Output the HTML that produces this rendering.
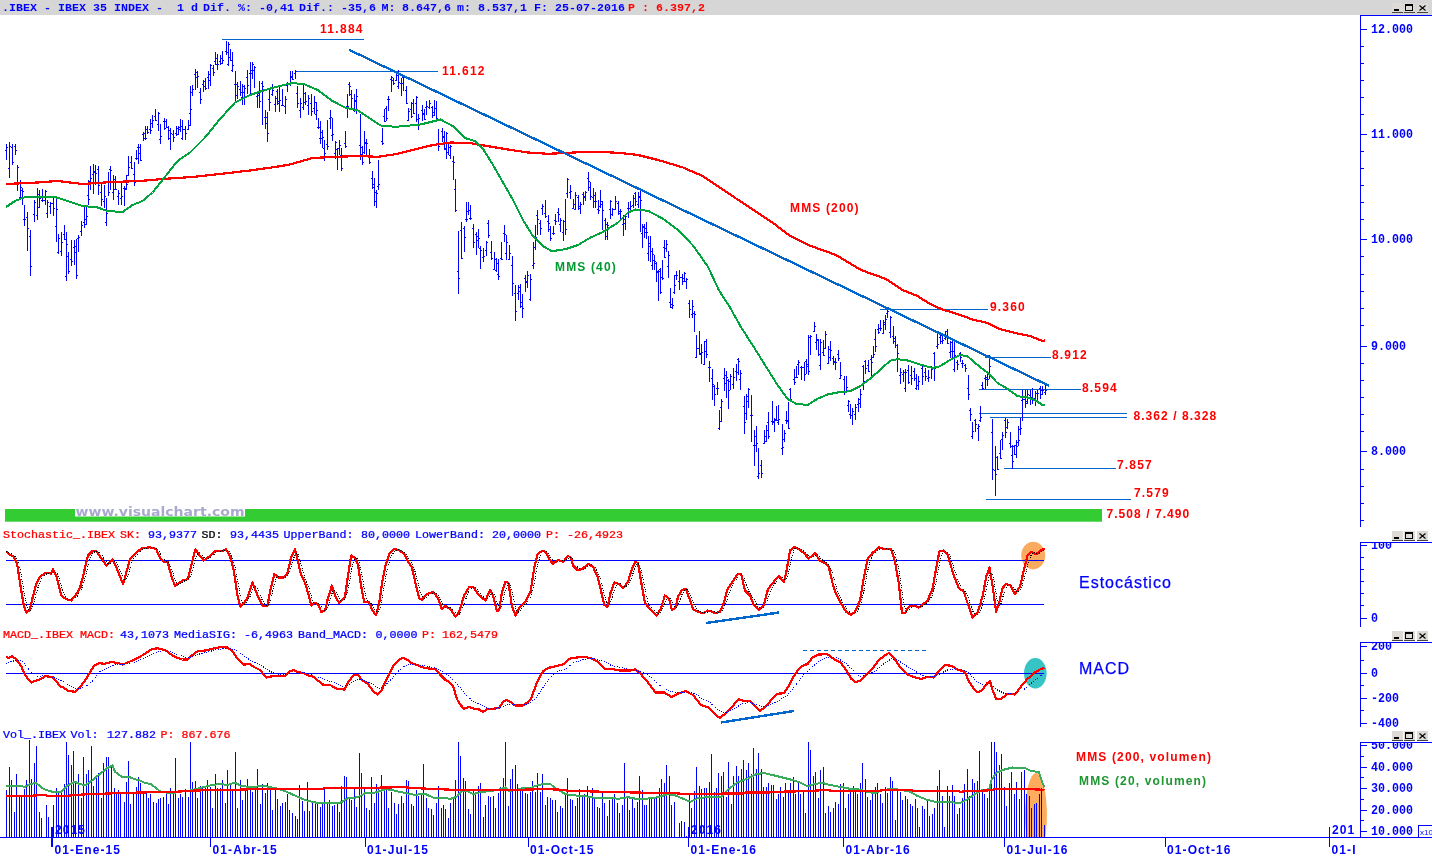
<!DOCTYPE html>
<html><head><meta charset="utf-8"><title>IBEX 35</title>
<style>html,body{margin:0;padding:0;background:#fff;}body{width:1432px;height:857px;overflow:hidden;position:relative;font-family:"Liberation Sans",sans-serif;}</style>
</head><body>
<svg width="1432" height="857" viewBox="0 0 1432 857" style="position:absolute;left:0;top:0">
<rect width="1432" height="857" fill="#fff"/>
<rect x="0" y="0" width="1432" height="15" fill="#d6d6d6"/>
<rect x="5" y="509" width="1097" height="12.7" fill="#33cc33"/>
<rect x="75" y="505" width="170" height="11.5" fill="#fff"/>
<rect x="222" y="39" width="142" height="1" fill="#0066cc"/>
<rect x="295" y="71" width="143" height="1" fill="#0066cc"/>
<rect x="880" y="309" width="108" height="1" fill="#0066cc"/>
<rect x="985" y="357" width="66" height="1" fill="#0066cc"/>
<rect x="979" y="389" width="102" height="1" fill="#0066cc"/>
<rect x="979" y="413" width="148" height="1" fill="#0066cc"/>
<rect x="990" y="417" width="137" height="1" fill="#0066cc"/>
<rect x="1004" y="468" width="112" height="1" fill="#0066cc"/>
<rect x="986" y="499" width="145" height="1" fill="#0066cc"/>
<path d="M6.5 144V160M5 150.5h1M7 147.5h1M9.5 142V178M8 168.5h1M10 146.5h1M12.5 144V165M11 147.5h1M13 162.5h1M15.5 144V155M14 146.5h1M16 150.5h1M17.5 165V191M16 184.5h1M18 167.5h1M20.5 180V200M19 197.5h1M21 187.5h1M22.5 188V205M21 190.5h1M23 191.5h1M24.5 205V226M23 219.5h1M25 219.5h1M27.5 212V251M26 217.5h1M28 228.5h1M30.5 230V276M29 236.5h1M31 266.5h1M34.5 200V222M33 214.5h1M35 202.5h1M37.5 188V220M36 215.5h1M38 207.5h1M39.5 190V208M38 194.5h1M40 198.5h1M42.5 189V202M41 200.5h1M43 200.5h1M45.5 190V205M44 200.5h1M46 191.5h1M47.5 200V218M46 213.5h1M48 202.5h1M50.5 202V214M49 206.5h1M51 203.5h1M53.5 198V216M52 203.5h1M54 208.5h1M56.5 199V242M55 226.5h1M57 209.5h1M58.5 234V254M57 252.5h1M59 238.5h1M61.5 232V256M60 251.5h1M62 242.5h1M64.5 225V240M63 234.5h1M65 239.5h1M66.5 232V281M65 276.5h1M67 244.5h1M68.5 252V274M67 256.5h1M69 271.5h1M71.5 240V266M70 259.5h1M72 261.5h1M74.5 240V265M73 247.5h1M75 252.5h1M76.5 239V279M75 246.5h1M77 275.5h1M78.5 235V252M77 238.5h1M79 237.5h1M81.5 221V236M80 231.5h1M82 225.5h1M84.5 206V228M83 222.5h1M85 224.5h1M86.5 205V225M85 219.5h1M87 216.5h1M88.5 180V205M87 195.5h1M89 199.5h1M90.5 166V190M89 181.5h1M91 178.5h1M93.5 164V194M92 174.5h1M94 172.5h1M95.5 165V185M94 171.5h1M96 173.5h1M98.5 166V195M97 169.5h1M99 185.5h1M101.5 182V206M100 192.5h1M102 199.5h1M104.5 185V208M103 201.5h1M105 196.5h1M106.5 198V226M105 222.5h1M107 213.5h1M108.5 172V196M107 182.5h1M109 192.5h1M110.5 166V190M109 169.5h1M111 170.5h1M113.5 175V200M112 192.5h1M114 189.5h1M115.5 176V190M114 179.5h1M116 189.5h1M118.5 190V205M117 196.5h1M119 193.5h1M121.5 182V205M120 198.5h1M122 196.5h1M124.5 186V206M123 188.5h1M125 189.5h1M126.5 175V190M125 188.5h1M127 184.5h1M128.5 156V176M127 175.5h1M129 167.5h1M131.5 156V169M130 162.5h1M132 168.5h1M134.5 162V186M133 174.5h1M135 182.5h1M136.5 150V160M135 158.5h1M137 158.5h1M138.5 144V164M137 147.5h1M139 147.5h1M140.5 144V161M139 153.5h1M141 160.5h1M143.5 132V141M142 134.5h1M144 133.5h1M145.5 126V140M144 138.5h1M146 138.5h1M147.5 126V134M146 129.5h1M148 132.5h1M150.5 119V134M149 129.5h1M151 130.5h1M152.5 115V128M151 123.5h1M153 120.5h1M155.5 109V121M154 116.5h1M156 120.5h1M158.5 112V131M157 124.5h1M159 113.5h1M160.5 124V144M159 139.5h1M161 136.5h1M164.5 118V130M163 121.5h1M165 128.5h1M166.5 119V128M165 121.5h1M167 127.5h1M168.5 126V140M167 127.5h1M169 130.5h1M170.5 128V150M169 138.5h1M171 133.5h1M173.5 130V142M172 134.5h1M174 137.5h1M176.5 126V136M175 133.5h1M177 134.5h1M178.5 126V135M177 128.5h1M179 129.5h1M180.5 119V132M179 127.5h1M181 126.5h1M182.5 120V140M181 138.5h1M183 129.5h1M185.5 126V140M184 129.5h1M186 133.5h1M188.5 120V130M187 129.5h1M189 125.5h1M190.5 86V126M189 113.5h1M191 109.5h1M192.5 85V96M191 92.5h1M193 89.5h1M195.5 69V90M194 74.5h1M196 72.5h1M197.5 71V88M196 77.5h1M198 76.5h1M200.5 88V104M199 92.5h1M201 99.5h1M203.5 80V92M202 84.5h1M204 81.5h1M205.5 78V90M204 86.5h1M206 88.5h1M208.5 71V89M207 77.5h1M209 80.5h1M210.5 64V86M209 74.5h1M211 65.5h1M213.5 65V76M212 68.5h1M214 72.5h1M215.5 52V65M214 61.5h1M216 58.5h1M217.5 54V70M216 64.5h1M218 64.5h1M220.5 55V65M219 61.5h1M221 58.5h1M222.5 51V64M221 63.5h1M223 60.5h1M226.5 41V55M225 51.5h1M227 52.5h1M228.5 42V66M227 64.5h1M229 44.5h1M230.5 49V61M229 57.5h1M231 60.5h1M232.5 52V72M231 70.5h1M233 65.5h1M235.5 71V101M234 84.5h1M236 84.5h1M237.5 82V99M236 95.5h1M238 86.5h1M240.5 81V96M239 89.5h1M241 92.5h1M242.5 84V105M241 97.5h1M243 86.5h1M244.5 85V105M243 92.5h1M245 88.5h1M247.5 70V94M246 77.5h1M248 85.5h1M250.5 62V95M249 73.5h1M251 70.5h1M252.5 62V79M251 73.5h1M253 64.5h1M254.5 66V88M253 70.5h1M255 67.5h1M257.5 91V108M256 96.5h1M258 95.5h1M259.5 81V108M258 93.5h1M260 101.5h1M262.5 81V125M261 83.5h1M263 86.5h1M265.5 110V129M264 117.5h1M266 123.5h1M267.5 112V142M266 117.5h1M268 133.5h1M269.5 90V111M268 99.5h1M270 102.5h1M272.5 84V96M271 94.5h1M273 90.5h1M275.5 96V112M274 104.5h1M276 98.5h1M277.5 89V105M276 91.5h1M278 103.5h1M279.5 85V112M278 101.5h1M280 100.5h1M282.5 89V106M281 105.5h1M283 105.5h1M285.5 96V114M284 106.5h1M286 99.5h1M287.5 82V92M286 85.5h1M288 84.5h1M290.5 71V86M289 83.5h1M291 77.5h1M292.5 71V80M291 76.5h1M293 79.5h1M295.5 70V79M294 73.5h1M296 71.5h1M297.5 86V108M296 93.5h1M298 103.5h1M300.5 98V118M299 110.5h1M301 103.5h1M303.5 84V110M302 107.5h1M304 102.5h1M305.5 92V105M304 93.5h1M306 101.5h1M308.5 95V115M307 105.5h1M309 98.5h1M311.5 94V116M310 103.5h1M312 111.5h1M314.5 96V114M313 108.5h1M315 102.5h1M316.5 102V120M315 114.5h1M317 110.5h1M318.5 118V129M317 127.5h1M319 127.5h1M320.5 121V144M319 138.5h1M321 132.5h1M322.5 130V148M321 138.5h1M323 137.5h1M324.5 140V161M323 148.5h1M325 153.5h1M327.5 120V150M326 144.5h1M328 146.5h1M330.5 110V129M329 118.5h1M331 117.5h1M332.5 118V141M331 135.5h1M333 134.5h1M335.5 141V159M334 153.5h1M336 142.5h1M337.5 148V170M336 149.5h1M338 157.5h1M339.5 140V155M338 148.5h1M340 145.5h1M341.5 148V171M340 155.5h1M342 168.5h1M345.5 131V148M344 143.5h1M346 146.5h1M347.5 94V118M346 106.5h1M348 106.5h1M349.5 82V96M348 84.5h1M350 86.5h1M351.5 90V110M350 94.5h1M352 98.5h1M354.5 94V112M353 110.5h1M355 101.5h1M356.5 89V114M355 100.5h1M357 96.5h1M360.5 114V160M359 145.5h1M361 154.5h1M362.5 146V165M361 147.5h1M363 162.5h1M364.5 131V154M363 152.5h1M365 143.5h1M366.5 139V156M365 142.5h1M367 143.5h1M369.5 149V164M368 156.5h1M370 162.5h1M372.5 171V189M371 178.5h1M373 187.5h1M374.5 178V206M373 184.5h1M375 192.5h1M376.5 190V208M375 201.5h1M377 193.5h1M378.5 160V190M377 186.5h1M379 184.5h1M382.5 128V145M381 141.5h1M383 143.5h1M384.5 109V122M383 116.5h1M385 121.5h1M386.5 106V121M385 108.5h1M387 118.5h1M388.5 96V111M387 99.5h1M389 99.5h1M391.5 76V92M390 79.5h1M392 77.5h1M393.5 78V85M392 80.5h1M394 83.5h1M396.5 72V81M395 80.5h1M397 75.5h1M398.5 70V89M397 86.5h1M399 82.5h1M401.5 78V96M400 83.5h1M402 83.5h1M403.5 76V91M402 77.5h1M404 77.5h1M406.5 86V104M405 90.5h1M407 103.5h1M408.5 108V121M407 120.5h1M409 111.5h1M411.5 102V118M410 109.5h1M412 116.5h1M413.5 99V114M412 103.5h1M414 113.5h1M416.5 96V122M415 103.5h1M417 97.5h1M418.5 114V130M417 119.5h1M419 118.5h1M422.5 105V121M421 110.5h1M423 114.5h1M424.5 109V120M423 113.5h1M425 119.5h1M426.5 101V115M425 107.5h1M427 106.5h1M429.5 100V109M428 107.5h1M430 103.5h1M432.5 106V118M431 107.5h1M433 112.5h1M434.5 100V116M433 115.5h1M435 108.5h1M436.5 101V121M435 120.5h1M437 118.5h1M438.5 129V151M437 143.5h1M439 146.5h1M442.5 128V142M441 131.5h1M443 137.5h1M444.5 131V150M443 136.5h1M445 148.5h1M446.5 132V159M445 149.5h1M447 133.5h1M448.5 144V155M447 152.5h1M449 147.5h1M450.5 145V159M449 155.5h1M451 146.5h1M453.5 156V180M452 161.5h1M454 162.5h1M455.5 179V212M454 189.5h1M456 210.5h1M458.5 231V294M457 271.5h1M459 278.5h1M461.5 222V259M460 230.5h1M462 258.5h1M464.5 226V252M463 228.5h1M465 237.5h1M466.5 202V222M465 219.5h1M467 219.5h1M468.5 202V215M467 211.5h1M469 210.5h1M470.5 205V220M469 218.5h1M471 218.5h1M473.5 224V248M472 228.5h1M474 242.5h1M476.5 232V255M475 234.5h1M477 240.5h1M478.5 229V248M477 236.5h1M479 238.5h1M480.5 246V269M479 248.5h1M481 250.5h1M483.5 248V262M482 257.5h1M484 256.5h1M486.5 241V256M485 250.5h1M487 242.5h1M488.5 220V238M487 223.5h1M489 235.5h1M491.5 241V260M490 252.5h1M492 258.5h1M494.5 252V270M493 269.5h1M495 259.5h1M496.5 258V272M495 270.5h1M497 263.5h1M498.5 259V280M497 274.5h1M499 276.5h1M501.5 242V260M500 258.5h1M502 259.5h1M504.5 225V242M503 233.5h1M505 234.5h1M506.5 235V260M505 253.5h1M507 242.5h1M509.5 245V260M508 259.5h1M510 253.5h1M512.5 256V296M511 265.5h1M513 283.5h1M515.5 285V321M514 293.5h1M516 311.5h1M518.5 285V300M517 293.5h1M519 291.5h1M520.5 284V308M519 287.5h1M521 306.5h1M522.5 294V318M521 302.5h1M523 308.5h1M525.5 275V292M524 278.5h1M526 282.5h1M527.5 271V288M526 281.5h1M528 275.5h1M530.5 274V301M529 299.5h1M531 279.5h1M533.5 242V269M532 265.5h1M534 263.5h1M535.5 225V250M534 247.5h1M536 237.5h1M537.5 210V235M536 215.5h1M538 219.5h1M540.5 220V235M539 223.5h1M541 228.5h1M542.5 204V215M541 208.5h1M543 206.5h1M545.5 200V218M544 213.5h1M546 216.5h1M548.5 215V232M547 221.5h1M549 223.5h1M550.5 226V241M549 229.5h1M551 238.5h1M553.5 226V235M552 233.5h1M554 233.5h1M555.5 214V225M554 220.5h1M556 221.5h1M558.5 208V222M557 212.5h1M559 214.5h1M560.5 218V232M559 224.5h1M561 220.5h1M563.5 220V241M562 232.5h1M564 221.5h1M565.5 199V235M564 221.5h1M566 229.5h1M567.5 178V198M566 193.5h1M568 179.5h1M570.5 185V199M569 192.5h1M571 191.5h1M573.5 199V209M572 208.5h1M574 204.5h1M575.5 192V210M574 209.5h1M576 195.5h1M578.5 195V210M577 197.5h1M579 208.5h1M580.5 202V214M579 206.5h1M581 204.5h1M583.5 192V205M582 194.5h1M584 197.5h1M585.5 191V201M584 196.5h1M586 192.5h1M588.5 172V191M587 178.5h1M589 181.5h1M590.5 182V200M589 187.5h1M591 196.5h1M593.5 188V208M592 197.5h1M594 201.5h1M595.5 192V208M594 195.5h1M596 201.5h1M598.5 200V214M597 209.5h1M599 210.5h1M600.5 190V208M599 206.5h1M601 201.5h1M602.5 201V230M601 204.5h1M603 210.5h1M605.5 218V240M604 220.5h1M606 224.5h1M607.5 222V240M606 236.5h1M608 225.5h1M610.5 200V219M609 209.5h1M611 201.5h1M612.5 208V216M611 214.5h1M613 209.5h1M615.5 196V210M614 209.5h1M616 201.5h1M618.5 201V215M617 203.5h1M619 211.5h1M620.5 209V220M619 213.5h1M621 211.5h1M623.5 215V236M622 224.5h1M624 219.5h1M625.5 215V230M624 223.5h1M626 216.5h1M628.5 202V218M627 208.5h1M629 211.5h1M630.5 201V212M629 208.5h1M631 206.5h1M633.5 195V208M632 205.5h1M634 198.5h1M635.5 192V206M634 193.5h1M636 201.5h1M638.5 192V208M637 204.5h1M639 196.5h1M640.5 189V232M639 197.5h1M641 200.5h1M642.5 224V248M641 233.5h1M643 226.5h1M644.5 224V238M643 227.5h1M645 228.5h1M646.5 222V239M645 232.5h1M647 232.5h1M648.5 236V261M647 253.5h1M649 243.5h1M650.5 236V262M649 246.5h1M651 251.5h1M652.5 248V270M651 265.5h1M653 254.5h1M654.5 255V270M653 260.5h1M655 261.5h1M656.5 262V282M655 263.5h1M657 271.5h1M658.5 270V301M657 272.5h1M659 271.5h1M660.5 268V294M659 269.5h1M661 292.5h1M662.5 260V280M661 277.5h1M663 278.5h1M664.5 240V258M663 247.5h1M665 257.5h1M666.5 240V252M665 248.5h1M667 244.5h1M668.5 251V278M667 266.5h1M669 255.5h1M670.5 288V308M669 302.5h1M671 304.5h1M672.5 298V309M671 307.5h1M673 305.5h1M674.5 275V294M673 292.5h1M675 285.5h1M676.5 271V280M675 275.5h1M677 275.5h1M679.5 270V290M678 281.5h1M680 277.5h1M682.5 274V285M681 277.5h1M683 281.5h1M684.5 272V282M683 278.5h1M685 273.5h1M686.5 278V289M685 281.5h1M687 279.5h1M689.5 300V318M688 303.5h1M690 309.5h1M692.5 300V318M691 314.5h1M693 306.5h1M694.5 311V332M693 313.5h1M695 314.5h1M696.5 335V358M695 357.5h1M697 348.5h1M699.5 331V355M698 348.5h1M700 353.5h1M701.5 344V364M700 354.5h1M702 352.5h1M704.5 341V365M703 364.5h1M705 351.5h1M706.5 339V358M705 341.5h1M707 354.5h1M709.5 361V382M708 367.5h1M710 367.5h1M712.5 369V400M711 378.5h1M713 384.5h1M714.5 385V406M713 386.5h1M715 394.5h1M717.5 382V395M716 388.5h1M718 388.5h1M719.5 410V430M718 428.5h1M720 421.5h1M721.5 399V422M720 407.5h1M722 401.5h1M724.5 368V391M723 378.5h1M725 375.5h1M726.5 371V398M725 383.5h1M727 377.5h1M728.5 379V409M727 380.5h1M729 390.5h1M730.5 374V390M729 381.5h1M731 376.5h1M733.5 368V389M732 384.5h1M734 377.5h1M736.5 364V381M735 371.5h1M737 372.5h1M738.5 358V375M737 359.5h1M739 361.5h1M740.5 370V390M739 379.5h1M741 373.5h1M744.5 396V434M743 406.5h1M745 422.5h1M746.5 394V420M745 413.5h1M747 396.5h1M748.5 388V408M747 401.5h1M749 389.5h1M751.5 395V442M750 415.5h1M752 415.5h1M754.5 430V466M753 445.5h1M755 436.5h1M756.5 426V452M755 445.5h1M757 443.5h1M758.5 448V479M757 476.5h1M759 473.5h1M761.5 460V478M760 465.5h1M762 473.5h1M764.5 430V444M763 443.5h1M765 436.5h1M766.5 425V442M765 441.5h1M767 430.5h1M768.5 412V439M767 422.5h1M769 436.5h1M772.5 401V425M771 421.5h1M773 422.5h1M774.5 418V432M773 421.5h1M775 419.5h1M776.5 406V421M775 420.5h1M777 420.5h1M778.5 405V425M777 422.5h1M779 419.5h1M782.5 424V455M781 448.5h1M783 447.5h1M784.5 430V442M783 439.5h1M785 433.5h1M786.5 411V424M785 420.5h1M787 420.5h1M788.5 402V429M787 421.5h1M789 428.5h1M790.5 388V402M789 389.5h1M791 399.5h1M794.5 369V385M793 379.5h1M795 382.5h1M796.5 366V378M795 377.5h1M797 377.5h1M798.5 360V375M797 364.5h1M799 362.5h1M801.5 366V380M800 367.5h1M802 367.5h1M804.5 362V381M803 367.5h1M805 374.5h1M806.5 359V374M805 361.5h1M807 366.5h1M808.5 335V375M807 364.5h1M809 371.5h1M810.5 335V355M809 337.5h1M811 336.5h1M814.5 322V332M813 331.5h1M815 326.5h1M816.5 334V350M815 342.5h1M817 339.5h1M818.5 339V356M817 340.5h1M819 354.5h1M820.5 339V370M819 365.5h1M821 342.5h1M823.5 340V356M822 352.5h1M824 355.5h1M825.5 331V349M824 348.5h1M826 334.5h1M828.5 346V364M827 363.5h1M829 349.5h1M830.5 341V361M829 357.5h1M831 350.5h1M833.5 356V365M832 358.5h1M834 361.5h1M835.5 358V370M834 362.5h1M836 362.5h1M838.5 350V361M837 354.5h1M839 358.5h1M840.5 362V379M839 378.5h1M841 375.5h1M844.5 376V395M843 379.5h1M845 392.5h1M846.5 376V392M845 391.5h1M847 387.5h1M848.5 400V412M847 405.5h1M849 401.5h1M850.5 404V419M849 414.5h1M851 415.5h1M852.5 408V425M851 415.5h1M853 411.5h1M855.5 404V420M854 414.5h1M856 407.5h1M858.5 398V412M857 404.5h1M859 403.5h1M860.5 389V408M859 399.5h1M861 394.5h1M863.5 365V390M862 366.5h1M864 381.5h1M865.5 360V374M864 361.5h1M866 368.5h1M868.5 360V372M867 365.5h1M869 371.5h1M871.5 355V378M870 359.5h1M872 362.5h1M873.5 346V358M872 357.5h1M874 354.5h1M875.5 329V352M874 339.5h1M876 346.5h1M878.5 324V334M877 329.5h1M879 332.5h1M880.5 320V331M879 328.5h1M881 328.5h1M883.5 320V334M882 333.5h1M884 322.5h1M885.5 315V330M884 324.5h1M886 319.5h1M887.5 310V318M886 313.5h1M888 311.5h1M890.5 316V338M889 332.5h1M891 317.5h1M893.5 326V344M892 336.5h1M894 341.5h1M895.5 336V348M894 338.5h1M896 345.5h1M897.5 344V372M896 359.5h1M898 353.5h1M900.5 368V384M899 375.5h1M901 372.5h1M903.5 370V382M902 374.5h1M904 372.5h1M905.5 369V392M904 388.5h1M906 372.5h1M908.5 365V384M907 370.5h1M909 382.5h1M911.5 366V385M910 375.5h1M912 378.5h1M914.5 368V381M913 371.5h1M915 378.5h1M916.5 374V390M915 388.5h1M917 385.5h1M918.5 376V390M917 385.5h1M919 381.5h1M922.5 364V385M921 368.5h1M923 376.5h1M925.5 368V381M924 372.5h1M926 376.5h1M928.5 370V382M927 378.5h1M929 377.5h1M931.5 366V379M930 367.5h1M932 369.5h1M934.5 352V381M933 353.5h1M935 368.5h1M937.5 331V349M936 346.5h1M938 344.5h1M940.5 332V344M939 337.5h1M941 335.5h1M942.5 334V344M941 341.5h1M943 340.5h1M945.5 331V340M944 338.5h1M946 337.5h1M947.5 329V344M946 331.5h1M948 343.5h1M950.5 341V358M949 352.5h1M951 342.5h1M952.5 340V359M951 351.5h1M953 351.5h1M954.5 342V372M953 369.5h1M955 355.5h1M957.5 360V370M956 362.5h1M958 364.5h1M960.5 352V362M959 353.5h1M961 357.5h1M962.5 360V368M961 363.5h1M963 363.5h1M965.5 364V372M964 365.5h1M966 368.5h1M968.5 375V400M967 388.5h1M969 394.5h1M970.5 408V421M969 410.5h1M971 414.5h1M972.5 422V439M971 436.5h1M973 431.5h1M975.5 419V432M974 420.5h1M976 424.5h1M978.5 424V441M977 428.5h1M979 426.5h1M980.5 406V422M979 420.5h1M981 417.5h1M982.5 382V390M981 385.5h1M983 388.5h1M985.5 375V389M984 378.5h1M986 379.5h1M987.5 372V386M986 377.5h1M988 379.5h1M989.5 355V379M988 372.5h1M990 366.5h1M992.5 419V480M991 432.5h1M993 469.5h1M995.5 446V496M994 470.5h1M996 474.5h1M997.5 456V470M996 457.5h1M998 469.5h1M1000.5 440V459M999 453.5h1M1001 458.5h1M1002.5 432V450M1001 439.5h1M1003 435.5h1M1005.5 418V438M1004 420.5h1M1006 432.5h1M1007.5 419V429M1006 427.5h1M1008 422.5h1M1010.5 432V448M1009 443.5h1M1011 446.5h1M1012.5 445V469M1011 455.5h1M1013 461.5h1M1014.5 445V455M1013 446.5h1M1015 454.5h1M1016.5 440V458M1015 445.5h1M1017 446.5h1M1018.5 426V446M1017 442.5h1M1019 440.5h1M1020.5 418V435M1019 429.5h1M1021 428.5h1M1022.5 390V421M1021 400.5h1M1023 399.5h1M1025.5 390V408M1024 399.5h1M1026 403.5h1M1027.5 390V404M1026 401.5h1M1028 394.5h1M1030.5 390V405M1029 395.5h1M1031 398.5h1M1032.5 388V404M1031 397.5h1M1033 399.5h1M1035.5 391V406M1034 398.5h1M1036 393.5h1M1037.5 390V400M1036 393.5h1M1038 393.5h1M1040.5 386V399M1039 388.5h1M1041 390.5h1M1042.5 386V395M1041 394.5h1M1043 390.5h1M1045.5 384V395M1044 392.5h1M1046 390.5h1" stroke="#0000ff" stroke-width="1" fill="none" shape-rendering="crispEdges"/>
<polyline points="6.0,184.0 37.5,182.5 57.5,181.0 82.5,184.0 112.5,182.0 140.0,181.0 162.5,179.0 192.5,177.0 220.0,174.0 250.0,170.5 275.0,167.0 290.0,164.5 312.5,158.0 332.5,157.0 358.0,156.0 378.0,156.8 395.5,154.2 413.0,150.0 433.0,145.0 450.5,142.5 470.5,143.2 488.0,146.2 508.0,149.5 528.0,152.5 548.0,153.8 565.5,153.0 583.0,152.0 603.0,152.0 620.5,153.0 638.0,155.0 658.0,160.0 683.0,167.5 703.0,176.2 716.0,185.0 736.0,198.5 755.0,211.0 772.5,222.5 790.0,236.0 811.0,246.0 836.0,255.0 861.0,270.0 886.0,279.0 902.5,290.0 917.5,296.0 930.0,304.0 942.5,309.5 957.5,314.0 972.5,319.5 987.5,323.0 1000.0,329.0 1015.0,333.0 1030.0,336.0 1042.5,341.0 1045.0,340.5" fill="none" stroke="#ff0000" stroke-width="2.2" stroke-linejoin="round" shape-rendering="crispEdges"/>
<polyline points="6.0,207.0 15.0,201.0 25.0,197.0 40.0,197.0 55.0,197.0 67.5,201.0 82.5,206.0 97.5,207.5 107.5,211.0 122.5,212.0 132.5,205.0 142.5,201.0 152.5,192.5 162.5,180.0 177.5,161.0 190.0,152.5 205.0,137.5 220.0,119.0 235.0,102.5 250.0,95.0 265.0,90.0 280.0,86.0 292.5,83.0 305.0,84.5 317.5,90.0 332.5,101.0 345.0,107.5 358.0,110.5 370.5,118.8 380.5,125.5 395.5,126.8 420.5,124.5 440.5,119.5 453.0,126.2 465.5,138.2 475.5,141.2 483.0,148.8 493.0,165.0 503.0,182.5 513.0,200.0 523.0,220.0 533.0,236.2 543.0,246.2 551.8,251.2 565.5,249.2 578.0,245.0 590.5,237.5 603.0,232.0 618.0,222.5 628.0,212.5 635.5,209.5 648.0,210.8 663.0,218.8 678.0,230.0 693.0,245.5 708.0,266.8 718.8,290.0 730.0,307.5 741.2,327.5 752.5,345.0 765.0,365.0 777.5,385.0 787.5,398.8 796.2,403.8 807.5,405.0 817.5,398.8 827.5,394.5 837.5,392.5 850.0,391.2 860.0,386.2 870.0,378.8 880.0,370.0 890.0,360.8 897.5,359.2 907.5,360.5 920.0,364.5 932.5,368.0 940.0,366.2 950.0,360.0 960.0,355.0 967.5,356.2 977.5,365.0 987.5,372.5 997.5,383.0 1007.5,388.8 1017.5,396.2 1027.5,397.5 1035.0,400.0 1042.5,405.0 1045.0,404.5" fill="none" stroke="#00a43c" stroke-width="2.0" stroke-linejoin="round" shape-rendering="crispEdges"/>
<line x1="349" y1="49.7" x2="1049" y2="385.8" stroke="#0066cc" stroke-width="2.3" shape-rendering="crispEdges"/>
<ellipse cx="1033.2" cy="555.6" rx="12" ry="13.8" fill="#fbab60"/>
<rect x="6" y="560" width="1038" height="1" fill="#0000ff"/>
<rect x="6" y="604" width="1038" height="1" fill="#0000ff"/>
<polyline points="6.2,551.8 10.0,555.0 13.8,556.8 17.0,563.0 20.0,583.0 23.8,605.5 26.2,612.5 29.5,610.5 32.5,598.0 36.2,584.2 40.0,576.8 45.0,573.0 51.2,573.5 53.0,569.2 56.2,575.5 61.2,595.5 66.2,599.2 71.2,600.5 76.2,594.2 80.0,588.0 83.8,573.0 88.0,555.5 92.5,551.0 96.2,551.0 101.2,558.0 106.2,565.5 112.5,559.2 116.2,566.8 120.0,576.8 123.2,583.8 126.2,573.0 130.0,559.2 135.0,554.2 141.2,548.5 150.0,547.2 156.2,549.2 160.0,558.0 163.8,561.8 167.5,561.8 171.2,575.5 175.0,586.2 178.8,583.0 183.8,580.0 188.0,579.2 191.2,565.5 195.5,549.2 198.8,554.2 203.8,560.5 208.8,556.8 215.5,551.0 222.5,551.0 225.8,549.2 230.0,556.0 233.8,570.5 237.5,595.5 240.5,606.8 243.8,603.0 247.5,598.0 252.5,582.5 257.5,595.5 263.0,606.0 267.5,605.5 270.0,591.8 274.2,574.2 278.8,577.5 283.8,577.5 287.5,573.0 291.2,556.8 295.0,549.2 297.5,559.2 300.8,574.2 305.0,583.0 308.8,595.5 311.2,605.5 315.0,602.5 318.8,605.5 321.2,611.8 325.0,610.5 328.0,598.0 332.0,585.5 335.5,596.8 339.2,603.0 345.0,596.8 348.0,575.5 351.2,555.5 355.0,558.0 358.0,564.2 361.0,585.5 364.2,601.8 369.2,602.5 372.5,610.5 376.0,615.0 379.2,603.0 382.5,580.5 385.5,565.5 389.2,554.2 394.2,549.2 399.2,550.0 404.2,554.2 408.0,561.8 411.8,566.8 415.5,583.0 419.2,598.0 421.8,599.8 426.8,594.2 433.0,591.8 438.0,598.0 441.8,609.2 445.5,606.0 450.5,609.2 455.5,616.8 459.2,611.8 464.2,595.5 469.2,586.8 473.0,586.8 479.2,595.5 485.5,600.5 490.0,590.0 493.0,595.5 496.8,610.5 499.2,610.5 501.8,593.0 505.5,581.8 508.5,583.0 511.8,605.5 515.5,615.5 519.2,608.0 525.5,601.8 530.5,591.8 534.2,568.0 537.5,554.2 541.8,551.0 545.5,551.8 549.2,559.2 553.0,563.8 558.0,560.0 563.0,561.8 568.0,556.0 571.0,557.5 573.0,565.5 578.0,570.5 583.0,568.5 588.0,563.8 593.0,566.8 598.0,578.0 601.8,594.2 604.2,605.0 607.5,606.8 610.5,593.0 614.2,582.5 619.2,584.2 623.5,588.0 628.0,581.8 631.8,569.2 635.5,561.8 638.0,563.0 641.8,585.5 645.0,603.0 649.2,608.0 653.0,611.8 656.8,615.5 660.5,609.2 665.0,595.5 669.2,599.2 671.8,609.8 675.5,608.0 678.0,596.8 681.8,590.0 686.0,588.8 689.2,598.0 693.0,609.2 698.0,611.8 700.0,612.5 703.8,613.0 707.5,610.5 711.2,611.0 715.0,613.5 720.0,611.8 723.8,603.0 727.5,589.2 732.5,581.8 737.5,574.2 741.2,574.2 745.0,590.5 750.0,595.5 753.8,605.0 758.8,609.8 763.8,605.0 768.0,589.2 773.8,581.8 778.8,576.0 783.8,581.8 786.2,573.0 790.0,550.5 794.5,546.8 798.8,549.2 803.8,553.0 808.8,558.5 815.0,553.0 820.0,561.0 825.0,563.0 828.8,566.8 832.5,583.0 836.2,594.2 840.0,601.8 846.2,611.8 851.2,615.0 855.0,611.8 860.0,600.5 863.8,578.0 867.5,559.2 872.5,553.0 878.8,547.2 883.8,549.2 891.2,549.2 895.0,561.8 898.8,583.0 902.0,613.0 905.0,613.0 908.8,606.8 913.8,605.5 918.8,607.5 923.8,603.5 927.5,600.5 932.5,589.2 936.2,568.0 939.5,551.0 943.8,550.5 947.5,554.2 950.0,563.0 953.8,575.5 958.8,588.0 963.8,591.8 967.5,603.0 972.5,617.5 977.5,612.5 982.5,596.8 986.2,576.8 989.5,567.5 992.5,585.5 996.2,611.8 998.8,604.2 1002.5,588.0 1006.2,584.2 1010.0,585.0 1015.0,594.2 1020.0,586.8 1023.8,570.5 1027.5,555.5 1031.2,551.8 1036.2,554.2 1041.2,550.0 1045.0,548.5" fill="none" stroke="#ff0000" stroke-width="2.2" stroke-linejoin="round" shape-rendering="crispEdges"/>
<polyline points="6.2,551.8 7.2,552.2 8.2,552.6 9.2,553.0 10.2,553.5 11.2,553.8 12.2,554.5 13.2,555.2 14.2,555.9 15.2,556.8 16.2,557.8 17.2,559.4 18.2,561.9 19.2,565.5 20.2,569.9 21.2,575.1 22.2,580.9 23.2,587.2 24.2,593.1 25.2,598.4 26.2,603.1 27.2,606.7 28.2,609.1 29.2,610.5 30.2,610.6 31.2,609.5 32.2,607.2 33.2,604.5 34.2,601.2 35.2,597.4 36.2,593.5 37.2,590.0 38.2,586.9 39.2,584.1 40.2,581.6 41.2,579.6 42.2,578.0 43.2,576.7 44.2,575.6 45.2,574.7 46.2,574.1 47.2,573.7 48.2,573.4 49.2,573.2 50.2,573.2 51.2,573.3 52.2,573.0 53.2,572.4 54.2,572.1 55.2,572.2 56.2,572.5 57.2,573.5 58.2,575.6 59.2,578.5 60.2,581.8 61.2,585.5 62.2,589.0 63.2,591.9 64.2,594.2 65.2,596.1 66.2,597.4 67.2,598.0 68.2,598.6 69.2,599.1 70.2,599.5 71.2,599.9 72.2,599.9 73.2,599.6 74.2,599.1 75.2,598.4 76.2,597.4 77.2,596.1 78.2,594.7 79.2,593.2 80.2,591.6 81.2,589.5 82.2,587.0 83.2,584.0 84.2,580.7 85.2,577.0 86.2,572.9 87.2,568.8 88.2,564.9 89.2,561.4 90.2,558.5 91.2,556.0 92.2,554.1 93.2,552.9 94.2,552.2 95.2,551.6 96.2,551.2 97.2,551.3 98.2,551.7 99.2,552.4 100.2,553.3 101.2,554.5 102.2,555.9 103.2,557.4 104.2,558.8 105.2,560.3 106.2,561.8 107.2,562.8 108.2,563.5 109.2,563.8 110.2,563.6 111.2,563.0 112.2,562.0 113.2,561.4 114.2,561.2 115.2,561.6 116.2,562.5 117.2,564.0 118.2,566.1 119.2,568.4 120.2,570.8 121.2,573.3 122.2,575.8 123.2,578.2 124.2,579.5 125.2,579.8 126.2,579.1 127.2,577.4 128.2,574.8 129.2,571.1 130.2,567.6 131.2,564.5 132.2,561.8 133.2,559.6 134.2,557.8 135.2,556.5 136.2,555.5 137.2,554.6 138.2,553.6 139.2,552.6 140.2,551.7 141.2,550.8 142.2,550.0 143.2,549.3 144.2,548.8 145.2,548.4 146.2,548.1 147.2,548.0 148.2,547.9 149.2,547.7 150.2,547.6 151.2,547.5 152.2,547.6 153.2,547.7 154.2,547.9 155.2,548.1 156.2,548.4 157.2,549.1 158.2,550.1 159.2,551.4 160.2,553.0 161.2,554.8 162.2,556.6 163.2,558.2 164.2,559.5 165.2,560.4 166.2,561.0 167.2,561.4 168.2,562.1 169.2,563.3 170.2,565.0 171.2,567.2 172.2,570.0 173.2,573.3 174.2,576.5 175.2,579.5 176.2,581.7 177.2,583.2 178.2,584.0 179.2,584.3 180.2,584.0 181.2,583.2 182.2,582.5 183.2,581.8 184.2,581.2 185.2,580.7 186.2,580.3 187.2,580.0 188.2,579.5 189.2,578.5 190.2,576.8 191.2,574.4 192.2,571.4 193.2,567.8 194.2,563.8 195.2,559.8 196.2,556.6 197.2,554.4 198.2,553.0 199.2,552.5 200.2,552.8 201.2,554.0 202.2,555.4 203.2,556.7 204.2,557.8 205.2,558.6 206.2,559.0 207.2,559.1 208.2,558.8 209.2,558.2 210.2,557.5 211.2,556.7 212.2,555.9 213.2,555.0 214.2,554.2 215.2,553.3 216.2,552.6 217.2,552.0 218.2,551.5 219.2,551.2 220.2,551.0 221.2,551.0 222.2,551.0 223.2,550.9 224.2,550.8 225.2,550.5 226.2,550.4 227.2,550.5 228.2,550.8 229.2,551.5 230.2,552.7 231.2,554.6 232.2,557.0 233.2,559.8 234.2,563.3 235.2,567.6 236.2,572.6 237.2,578.1 238.2,583.7 239.2,589.3 240.2,594.6 241.2,598.8 242.2,601.8 243.2,603.4 244.2,604.1 245.2,603.9 246.2,602.9 247.2,601.6 248.2,600.1 249.2,598.3 250.2,596.1 251.2,593.7 252.2,591.0 253.2,588.6 254.2,587.2 255.2,586.7 256.2,587.2 257.2,588.6 258.2,590.9 259.2,593.3 260.2,595.5 261.2,597.7 262.2,599.8 263.2,601.6 264.2,603.1 265.2,604.3 266.2,605.1 267.2,605.6 268.2,605.0 269.2,603.3 270.2,600.8 271.2,597.6 272.2,593.8 273.2,589.2 274.2,584.7 275.2,581.2 276.2,578.7 277.2,577.0 278.2,576.1 279.2,576.0 280.2,576.5 281.2,577.0 282.2,577.3 283.2,577.4 284.2,577.4 285.2,577.1 286.2,576.6 287.2,575.9 288.2,574.6 289.2,572.6 290.2,570.0 291.2,566.8 292.2,563.5 293.2,560.1 294.2,556.9 295.2,554.4 296.2,553.2 297.2,553.5 298.2,554.8 299.2,557.3 300.2,560.8 301.2,565.0 302.2,568.8 303.2,572.3 304.2,575.5 305.2,578.2 306.2,580.7 307.2,583.3 308.2,586.0 309.2,589.0 310.2,592.4 311.2,596.0 312.2,598.9 313.2,601.2 314.2,602.7 315.2,603.6 316.2,603.9 317.2,603.7 318.2,603.8 319.2,604.2 320.2,605.3 321.2,606.8 322.2,608.1 323.2,609.2 324.2,610.2 325.2,610.6 326.2,610.0 327.2,608.2 328.2,605.8 329.2,603.0 330.2,599.7 331.2,596.1 332.2,592.9 333.2,591.0 334.2,590.2 335.2,590.6 336.2,591.7 337.2,593.7 338.2,596.2 339.2,598.4 340.2,600.0 341.2,600.8 342.2,601.1 343.2,600.9 344.2,600.3 345.2,598.9 346.2,596.6 347.2,593.3 348.2,589.0 349.2,583.8 350.2,577.9 351.2,571.3 352.2,566.0 353.2,562.0 354.2,559.2 355.2,557.7 356.2,557.5 357.2,558.7 358.2,560.4 359.2,563.1 360.2,566.9 361.2,571.6 362.2,576.8 363.2,582.4 364.2,588.4 365.2,593.2 366.2,596.8 367.2,599.4 368.2,601.2 369.2,602.1 370.2,602.7 371.2,603.6 372.2,604.9 373.2,606.4 374.2,608.2 375.2,610.1 376.2,611.6 377.2,612.1 378.2,611.6 379.2,610.2 380.2,607.4 381.2,603.2 382.2,597.9 383.2,592.3 384.2,586.5 385.2,580.5 386.2,575.0 387.2,570.2 388.2,566.0 389.2,562.2 390.2,559.2 391.2,556.8 392.2,554.8 393.2,553.1 394.2,551.8 395.2,550.9 396.2,550.3 397.2,549.9 398.2,549.7 399.2,549.6 400.2,549.9 401.2,550.3 402.2,550.8 403.2,551.4 404.2,552.1 405.2,553.2 406.2,554.4 407.2,555.8 408.2,557.4 409.2,559.1 410.2,560.8 411.2,562.5 412.2,564.2 413.2,566.4 414.2,569.0 415.2,572.1 416.2,575.6 417.2,579.6 418.2,583.8 419.2,587.9 420.2,591.4 421.2,594.4 422.2,596.6 423.2,597.9 424.2,598.4 425.2,598.1 426.2,597.4 427.2,596.5 428.2,595.6 429.2,594.8 430.2,594.1 431.2,593.5 432.2,593.1 433.2,592.7 434.2,592.7 435.2,592.9 436.2,593.4 437.2,594.1 438.2,595.3 439.2,596.9 440.2,598.8 441.2,601.0 442.2,603.1 443.2,605.0 444.2,606.4 445.2,607.1 446.2,607.4 447.2,607.3 448.2,607.1 449.2,607.2 450.2,607.5 451.2,608.2 452.2,609.1 453.2,610.2 454.2,611.3 455.2,612.7 456.2,613.8 457.2,614.4 458.2,614.6 459.2,614.4 460.2,613.3 461.2,611.5 462.2,609.2 463.2,606.6 464.2,603.6 465.2,600.6 466.2,597.9 467.2,595.4 468.2,593.1 469.2,591.1 470.2,589.7 471.2,588.5 472.2,587.6 473.2,587.1 474.2,587.1 475.2,587.6 476.2,588.4 477.2,589.4 478.2,590.6 479.2,592.0 480.2,593.3 481.2,594.5 482.2,595.6 483.2,596.6 484.2,597.5 485.2,598.3 486.2,598.7 487.2,598.6 488.2,598.0 489.2,596.8 490.2,595.3 491.2,594.0 492.2,593.2 493.2,593.2 494.2,594.3 495.2,596.4 496.2,599.4 497.2,602.4 498.2,605.2 499.2,607.5 500.2,608.0 501.2,606.7 502.2,603.8 503.2,600.2 504.2,596.0 505.2,591.3 506.2,587.8 507.2,585.4 508.2,584.0 509.2,583.9 510.2,585.5 511.2,588.8 512.2,592.9 513.2,597.4 514.2,602.3 515.2,606.7 516.2,609.9 517.2,611.6 518.2,612.1 519.2,611.8 520.2,611.0 521.2,609.5 522.2,608.0 523.2,606.7 524.2,605.5 525.2,604.5 526.2,603.4 527.2,602.1 528.2,600.6 529.2,599.0 530.2,597.2 531.2,594.7 532.2,591.4 533.2,587.5 534.2,582.8 535.2,577.7 536.2,572.2 537.2,566.9 538.2,562.4 539.2,558.9 540.2,556.2 541.2,554.2 542.2,552.8 543.2,552.1 544.2,551.7 545.2,551.5 546.2,551.7 547.2,552.4 548.2,553.4 549.2,554.7 550.2,556.2 551.2,557.9 552.2,559.4 553.2,560.8 554.2,561.8 555.2,562.2 556.2,562.4 557.2,562.2 558.2,561.7 559.2,561.2 560.2,560.9 561.2,560.7 562.2,560.8 563.2,560.9 564.2,560.9 565.2,560.7 566.2,560.3 567.2,559.6 568.2,558.7 569.2,557.9 570.2,557.3 571.2,557.2 572.2,558.0 573.2,559.4 574.2,561.2 575.2,563.1 576.2,565.0 577.2,566.9 578.2,568.2 579.2,568.9 580.2,569.4 581.2,569.6 582.2,569.6 583.2,569.4 584.2,568.9 585.2,568.3 586.2,567.6 587.2,566.8 588.2,566.0 589.2,565.3 590.2,565.0 591.2,564.8 592.2,565.0 593.2,565.5 594.2,566.4 595.2,567.6 596.2,569.1 597.2,570.9 598.2,573.0 599.2,575.7 600.2,578.7 601.2,582.1 602.2,585.8 603.2,589.9 604.2,594.2 605.2,597.9 606.2,601.0 607.2,603.4 608.2,604.5 609.2,604.2 610.2,602.4 611.2,600.0 612.2,597.0 613.2,593.4 614.2,589.9 615.2,587.3 616.2,585.5 617.2,584.2 618.2,583.6 619.2,583.4 620.2,583.8 621.2,584.3 622.2,585.0 623.2,585.7 624.2,586.2 625.2,586.4 626.2,586.2 627.2,585.7 628.2,584.7 629.2,583.0 630.2,580.9 631.2,578.4 632.2,575.8 633.2,573.0 634.2,570.2 635.2,567.7 636.2,565.7 637.2,564.3 638.2,563.7 639.2,564.4 640.2,566.4 641.2,569.8 642.2,574.1 643.2,579.3 644.2,585.0 645.2,590.5 646.2,595.2 647.2,599.0 648.2,602.1 649.2,604.5 650.2,606.2 651.2,607.3 652.2,608.4 653.2,609.5 654.2,610.5 655.2,611.5 656.2,612.5 657.2,613.3 658.2,613.6 659.2,613.5 660.2,612.9 661.2,611.8 662.2,609.9 663.2,607.6 664.2,605.1 665.2,602.5 666.2,600.3 667.2,598.7 668.2,597.8 669.2,597.5 670.2,598.5 671.2,600.5 672.2,602.6 673.2,604.5 674.2,606.2 675.2,607.7 676.2,607.9 677.2,606.7 678.2,604.5 679.2,602.0 680.2,599.4 681.2,596.5 682.2,594.1 683.2,592.3 684.2,591.1 685.2,590.2 686.2,589.7 687.2,589.9 688.2,590.8 689.2,592.2 690.2,594.1 691.2,596.7 692.2,599.6 693.2,602.4 694.2,604.9 695.2,606.9 696.2,608.6 697.2,609.8 698.2,610.6 699.2,611.1 700.2,611.5 701.2,611.9 702.2,612.2 703.2,612.5 704.2,612.6 705.2,612.6 706.2,612.4 707.2,612.1 708.2,611.7 709.2,611.3 710.2,611.0 711.2,610.9 712.2,610.9 713.2,611.2 714.2,611.6 715.2,612.0 716.2,612.4 717.2,612.7 718.2,612.8 719.2,612.8 720.2,612.5 721.2,611.7 722.2,610.6 723.2,609.2 724.2,607.3 725.2,604.9 726.2,602.0 727.2,598.9 728.2,595.8 729.2,592.9 730.2,590.2 731.2,587.9 732.2,586.0 733.2,584.4 734.2,582.9 735.2,581.4 736.2,579.9 737.2,578.4 738.2,577.1 739.2,576.0 740.2,575.2 741.2,574.6 742.2,575.0 743.2,576.4 744.2,578.6 745.2,581.3 746.2,584.2 747.2,587.3 748.2,589.9 749.2,591.8 750.2,593.3 751.2,594.6 752.2,596.2 753.2,598.0 754.2,600.0 755.2,601.9 756.2,603.8 757.2,605.4 758.2,606.8 759.2,607.7 760.2,608.2 761.2,608.3 762.2,608.2 763.2,607.7 764.2,606.7 765.2,605.0 766.2,602.9 767.2,600.4 768.2,597.5 769.2,594.5 770.2,591.7 771.2,589.3 772.2,587.3 773.2,585.7 774.2,584.4 775.2,583.1 776.2,581.9 777.2,580.7 778.2,579.5 779.2,578.5 780.2,577.9 781.2,577.7 782.2,577.9 783.2,578.5 784.2,579.1 785.2,579.1 786.2,578.3 787.2,576.3 788.2,573.1 789.2,568.8 790.2,563.8 791.2,559.3 792.2,555.2 793.2,552.0 794.2,549.7 795.2,548.4 796.2,548.0 797.2,547.8 798.2,547.8 799.2,548.1 800.2,548.7 801.2,549.4 802.2,550.1 803.2,550.8 804.2,551.5 805.2,552.4 806.2,553.3 807.2,554.2 808.2,555.2 809.2,556.1 810.2,556.7 811.2,557.0 812.2,557.0 813.2,556.6 814.2,555.9 815.2,555.1 816.2,554.7 817.2,554.8 818.2,555.2 819.2,556.1 820.2,557.4 821.2,558.7 822.2,559.9 823.2,560.8 824.2,561.6 825.2,562.1 826.2,562.6 827.2,563.3 828.2,564.0 829.2,565.1 830.2,566.9 831.2,569.2 832.2,572.2 833.2,575.5 834.2,579.2 835.2,582.9 836.2,586.4 837.2,589.5 838.2,592.2 839.2,594.8 840.2,597.1 841.2,599.1 842.2,601.0 843.2,602.8 844.2,604.5 845.2,606.1 846.2,607.8 847.2,609.2 848.2,610.5 849.2,611.6 850.2,612.6 851.2,613.4 852.2,613.8 853.2,613.9 854.2,613.8 855.2,613.4 856.2,612.5 857.2,611.1 858.2,609.5 859.2,607.6 860.2,605.4 861.2,602.4 862.2,598.7 863.2,594.4 864.2,589.6 865.2,584.3 866.2,578.8 867.2,573.3 868.2,568.6 869.2,564.6 870.2,561.3 871.2,558.6 872.2,556.6 873.2,555.2 874.2,554.1 875.2,553.0 876.2,551.9 877.2,550.9 878.2,550.0 879.2,549.2 880.2,548.6 881.2,548.2 882.2,548.1 883.2,548.2 884.2,548.4 885.2,548.7 886.2,548.9 887.2,549.1 888.2,549.2 889.2,549.2 890.2,549.2 891.2,549.2 892.2,549.8 893.2,550.9 894.2,552.6 895.2,554.9 896.2,558.2 897.2,562.4 898.2,567.0 899.2,572.3 900.2,578.5 901.2,585.7 902.2,593.0 903.2,599.5 904.2,604.9 905.2,609.1 906.2,611.4 907.2,612.0 908.2,611.1 909.2,610.0 910.2,608.9 911.2,607.8 912.2,607.0 913.2,606.4 914.2,606.1 915.2,606.0 916.2,606.0 917.2,606.1 918.2,606.4 919.2,606.6 920.2,606.7 921.2,606.6 922.2,606.3 923.2,605.8 924.2,605.1 925.2,604.3 926.2,603.5 927.2,602.7 928.2,601.7 929.2,600.5 930.2,599.0 931.2,597.3 932.2,595.4 933.2,592.8 934.2,589.5 935.2,585.7 936.2,581.3 937.2,576.4 938.2,571.1 939.2,565.6 940.2,560.9 941.2,557.1 942.2,554.2 943.2,552.1 944.2,551.0 945.2,551.0 946.2,551.3 947.2,551.9 948.2,552.9 949.2,554.5 950.2,556.7 951.2,559.2 952.2,562.1 953.2,565.4 954.2,568.7 955.2,571.9 956.2,574.9 957.2,577.7 958.2,580.4 959.2,582.9 960.2,584.9 961.2,586.7 962.2,588.2 963.2,589.4 964.2,590.4 965.2,591.8 966.2,593.4 967.2,595.5 968.2,597.9 969.2,600.7 970.2,603.7 971.2,606.6 972.2,609.5 973.2,611.9 974.2,613.7 975.2,614.8 976.2,615.3 977.2,615.1 978.2,614.0 979.2,612.4 980.2,610.4 981.2,608.0 982.2,605.3 983.2,602.0 984.2,598.2 985.2,594.1 986.2,589.5 987.2,585.1 988.2,580.7 989.2,576.6 990.2,574.0 991.2,573.3 992.2,574.5 993.2,577.3 994.2,581.8 995.2,587.9 996.2,594.5 997.2,599.6 998.2,603.2 999.2,605.1 1000.2,605.1 1001.2,603.2 1002.2,599.5 1003.2,595.9 1004.2,592.6 1005.2,589.8 1006.2,587.6 1007.2,586.1 1008.2,585.4 1009.2,584.9 1010.2,584.8 1011.2,585.2 1012.2,586.0 1013.2,587.1 1014.2,588.4 1015.2,589.9 1016.2,591.1 1017.2,591.7 1018.2,591.7 1019.2,591.2 1020.2,590.0 1021.2,587.9 1022.2,585.4 1023.2,582.3 1024.2,578.8 1025.2,574.9 1026.2,570.8 1027.2,566.6 1028.2,562.9 1029.2,559.8 1030.2,557.1 1031.2,555.0 1032.2,553.6 1033.2,553.0 1034.2,552.8 1035.2,552.8 1036.2,553.0 1037.2,553.3 1038.2,553.3 1039.2,553.1 1040.2,552.8 1041.2,552.1 1042.2,551.4 1043.2,550.6 1044.2,550.0" fill="none" stroke="#000" stroke-width="1" stroke-linejoin="round" stroke-dasharray="1 1.4" shape-rendering="crispEdges"/>
<line x1="706" y1="623" x2="779" y2="612.5" stroke="#0066cc" stroke-width="2.4" shape-rendering="crispEdges"/>
<ellipse cx="1035.3" cy="673.2" rx="11.3" ry="15.2" fill="#36c4c4"/>
<rect x="6" y="673" width="1038" height="1" fill="#0000ff"/>
<polyline points="6.2,657.0 8.8,658.0 12.5,656.2 16.2,659.5 21.2,666.2 25.0,675.0 31.2,682.5 36.2,680.5 41.2,678.8 45.0,676.2 52.5,677.0 56.2,681.2 60.0,686.2 63.8,687.5 67.5,690.8 75.0,691.8 80.0,687.5 86.2,678.8 90.0,672.5 93.8,665.8 98.8,663.2 105.0,663.8 111.2,662.0 117.5,663.0 122.5,664.5 127.5,662.5 135.0,659.5 143.8,654.5 151.2,649.5 157.5,648.2 165.0,650.0 171.2,654.5 176.2,657.5 182.5,659.5 187.5,659.5 192.5,655.0 197.5,651.2 205.0,650.5 212.5,648.8 221.2,647.0 227.5,647.5 232.5,651.2 237.5,658.8 243.8,664.5 250.0,664.2 255.0,667.5 260.0,670.0 266.2,677.5 272.5,676.2 285.0,675.8 290.0,671.2 293.8,670.0 297.5,672.0 303.8,673.2 308.8,675.8 313.8,676.8 322.5,684.5 330.0,685.0 337.5,688.8 344.5,689.5 348.8,681.2 353.8,675.0 358.0,675.0 361.8,680.0 368.0,683.8 373.0,691.2 377.5,694.5 381.8,690.0 385.5,681.2 389.2,673.8 394.2,664.5 399.2,659.5 403.0,658.0 406.8,659.5 410.5,662.5 416.8,665.0 423.0,667.5 430.5,668.8 435.5,669.5 440.5,675.0 445.5,680.0 449.2,682.0 453.5,687.0 456.8,698.8 460.5,705.0 464.2,708.8 469.2,707.0 474.2,708.8 479.2,709.5 483.0,712.0 488.0,708.8 493.0,708.8 499.2,708.0 503.0,702.0 506.8,700.0 510.5,702.0 515.0,705.5 523.0,705.5 530.5,700.0 534.2,690.0 538.0,680.0 543.0,671.2 548.0,668.0 555.5,666.2 563.0,664.5 570.5,658.2 576.8,657.5 584.2,657.0 590.5,658.0 598.0,662.0 605.5,669.2 613.0,669.2 619.2,670.5 630.5,670.5 635.5,669.2 640.5,673.8 648.0,682.5 655.5,692.5 664.2,692.5 671.8,697.0 679.2,693.2 685.5,691.2 693.0,695.0 700.0,703.8 700.0,704.5 708.8,707.5 715.0,714.5 720.0,718.0 725.0,713.8 732.5,706.2 738.8,699.2 743.8,700.8 750.0,700.8 755.0,706.2 760.0,710.8 765.0,707.5 771.2,700.0 777.5,693.8 783.8,693.2 788.8,686.2 793.8,676.2 798.8,668.8 803.8,665.0 807.5,664.2 812.5,657.5 818.8,654.5 827.5,654.2 835.0,660.0 840.0,662.0 846.2,670.0 851.2,678.8 855.0,681.8 860.0,681.2 866.2,674.5 872.5,668.8 878.8,660.0 885.0,655.5 888.8,653.0 893.8,657.5 900.0,667.0 907.5,674.5 915.0,677.5 921.2,678.8 927.5,677.0 933.8,677.5 938.8,671.2 945.0,665.0 951.2,665.8 957.5,669.5 965.0,672.0 968.8,681.2 973.8,688.8 977.5,692.0 981.2,691.2 987.5,683.0 990.0,681.2 992.5,690.0 996.2,698.8 1001.2,698.8 1007.5,693.8 1015.0,694.5 1021.2,686.2 1027.5,678.8 1035.0,672.5 1041.2,668.8 1044.5,668.2" fill="none" stroke="#ff0000" stroke-width="2.2" stroke-linejoin="round" shape-rendering="crispEdges"/>
<polyline points="6.2,663.8 12.5,661.2 18.8,660.0 23.8,662.5 30.0,671.2 37.5,676.2 45.0,675.8 55.0,677.5 62.5,681.2 70.0,686.2 77.5,688.8 85.0,687.0 92.5,681.2 98.8,672.5 105.0,668.8 115.0,665.0 125.0,664.2 135.0,662.5 145.0,658.0 155.0,652.5 162.5,650.8 170.0,651.2 177.5,654.5 185.0,657.0 190.0,657.5 197.5,654.5 207.5,652.0 217.5,649.5 227.5,648.2 235.0,649.5 242.5,654.5 250.0,660.0 260.0,664.5 267.5,670.0 275.0,673.8 285.0,674.5 295.0,673.2 302.5,672.5 312.5,674.5 322.5,678.8 332.5,682.0 342.5,686.2 348.8,685.0 355.0,680.5 358.0,678.8 365.5,680.5 373.0,684.5 379.2,688.8 385.5,685.0 393.0,677.5 400.5,668.8 408.0,664.2 418.0,665.0 428.0,666.2 438.0,668.8 448.0,675.0 458.0,685.0 465.5,695.0 473.0,701.2 480.5,705.0 488.0,708.2 498.0,708.0 508.0,704.5 518.0,704.5 528.0,704.5 535.5,698.8 543.0,687.5 550.5,677.5 558.0,671.2 565.5,668.8 573.0,663.2 583.0,659.5 593.0,658.2 603.0,661.2 610.5,665.0 620.5,667.5 633.0,670.0 643.0,672.0 653.0,678.8 660.5,686.2 670.5,691.2 680.5,693.0 690.5,692.0 699.2,696.2 700.0,698.0 710.0,702.5 717.5,709.5 725.0,713.0 732.5,709.5 742.5,703.8 750.0,702.5 760.0,706.2 767.5,706.2 777.5,701.2 787.5,695.0 795.0,686.2 802.5,676.2 810.0,668.8 818.8,661.2 827.5,657.0 836.2,657.5 845.0,662.5 852.5,670.0 860.0,676.2 867.5,675.0 875.0,671.2 883.8,663.8 891.2,658.8 897.5,660.0 905.0,665.0 915.0,671.2 925.0,676.2 932.5,677.0 940.0,673.8 947.5,670.0 955.0,668.8 962.5,670.0 968.8,672.5 975.0,680.0 982.5,685.0 990.0,683.8 997.5,690.0 1005.0,693.8 1015.0,693.2 1025.0,688.8 1035.0,680.0 1044.5,673.0" fill="none" stroke="#0000ff" stroke-width="1" stroke-linejoin="round" stroke-dasharray="1 1.4" shape-rendering="crispEdges"/>
<line x1="721" y1="722.5" x2="794" y2="711" stroke="#0066cc" stroke-width="2.4" shape-rendering="crispEdges"/>
<line x1="803" y1="650.5" x2="927" y2="650.5" stroke="#0066cc" stroke-width="1" stroke-dasharray="4 3" shape-rendering="crispEdges"/>
<clipPath id="vc"><rect x="0" y="740" width="1432" height="97"/></clipPath>
<ellipse cx="1036" cy="815" rx="10.9" ry="42" fill="#fdab5c" clip-path="url(#vc)"/>
<path d="M6.5 790V837M9.5 767V837M11.5 780V837M14.5 812V837M16.5 774V837M19.5 796V837M21.5 796V837M24.5 789V837M26.5 780V837M29.5 740V837M31.5 779V837M34.5 763V837M36.5 746V837M39.5 812V837M41.5 818V837M46.5 805V837M48.5 817V837M53.5 805V837M56.5 788V837M58.5 792V837M61.5 792V837M64.5 784V837M66.5 742V837M68.5 755V837M71.5 765V837M73.5 751V837M75.5 782V837M78.5 774V837M81.5 798V837M83.5 757V837M86.5 774V837M88.5 770V837M91.5 746V837M93.5 786V837M96.5 776V837M98.5 773V837M101.5 798V837M103.5 763V837M106.5 757V837M108.5 757V837M111.5 766V837M114.5 788V837M116.5 794V837M118.5 790V837M120.5 794V837M124.5 802V837M126.5 782V837M128.5 761V837M130.5 804V837M133.5 794V837M136.5 787V837M138.5 777V837M140.5 783V837M143.5 792V837M146.5 792V837M148.5 798V837M150.5 794V837M153.5 802V837M156.5 803V837M158.5 799V837M160.5 798V837M163.5 797V837M166.5 794V837M168.5 804V837M170.5 788V837M173.5 794V837M175.5 758V837M178.5 798V837M180.5 794V837M182.5 797V837M185.5 789V837M188.5 797V837M190.5 742V837M192.5 782V837M195.5 781V837M197.5 798V837M200.5 786V837M202.5 786V837M205.5 788V837M207.5 780V837M210.5 787V837M212.5 808V837M215.5 774V837M217.5 788V837M220.5 788V837M222.5 780V837M225.5 803V837M227.5 770V837M230.5 784V837M232.5 790V837M235.5 752V837M237.5 808V837M240.5 780V837M242.5 800V837M245.5 788V837M247.5 779V837M250.5 789V837M252.5 792V837M255.5 788V837M257.5 769V837M260.5 804V837M262.5 784V837M265.5 793V837M267.5 783V837M270.5 788V837M272.5 810V837M275.5 788V837M277.5 799V837M280.5 806V837M282.5 803V837M285.5 802V837M287.5 794V837M289.5 810V837M292.5 813V837M295.5 816V837M297.5 819V837M299.5 785V837M302.5 801V837M304.5 811V837M307.5 782V837M309.5 811V837M312.5 803V837M315.5 804V837M317.5 802V837M320.5 807V837M322.5 803V837M324.5 788V837M327.5 804V837M329.5 800V837M332.5 806V837M334.5 805V837M337.5 802V837M339.5 812V837M341.5 786V837M344.5 776V837M346.5 777V837M349.5 798V837M351.5 800V837M354.5 789V837M356.5 807V837M359.5 753V837M361.5 773V837M364.5 787V837M366.5 808V837M369.5 810V837M371.5 777V837M374.5 803V837M376.5 784V837M378.5 787V837M381.5 775V837M384.5 788V837M386.5 789V837M388.5 808V837M391.5 792V837M394.5 803V837M396.5 814V837M398.5 804V837M401.5 796V837M403.5 803V837M406.5 780V837M408.5 781V837M411.5 804V837M413.5 806V837M416.5 790V837M418.5 796V837M421.5 794V837M423.5 764V837M426.5 798V837M428.5 808V837M431.5 809V837M433.5 815V837M436.5 803V837M438.5 786V837M441.5 808V837M443.5 805V837M445.5 809V837M448.5 818V837M450.5 803V837M453.5 797V837M455.5 780V837M458.5 742V837M460.5 756V837M463.5 778V837M465.5 781V837M468.5 809V837M470.5 814V837M473.5 790V837M475.5 794V837M478.5 786V837M480.5 783V837M483.5 817V837M485.5 805V837M488.5 796V837M490.5 797V837M493.5 796V837M495.5 808V837M498.5 793V837M500.5 787V837M503.5 778V837M505.5 742V837M508.5 806V837M510.5 779V837M512.5 769V837M515.5 765V837M517.5 784V837M520.5 790V837M522.5 791V837M525.5 793V837M527.5 794V837M530.5 792V837M532.5 781V837M535.5 792V837M537.5 773V837M540.5 792V837M542.5 774V837M545.5 805V837M547.5 797V837M550.5 798V837M552.5 800V837M555.5 800V837M557.5 812V837M560.5 806V837M562.5 808V837M565.5 794V837M567.5 778V837M570.5 799V837M572.5 800V837M575.5 806V837M577.5 798V837M579.5 789V837M582.5 796V837M584.5 794V837M587.5 786V837M589.5 796V837M592.5 788V837M594.5 797V837M597.5 807V837M599.5 808V837M602.5 793V837M604.5 803V837M607.5 816V837M609.5 800V837M612.5 799V837M614.5 794V837M617.5 803V837M619.5 813V837M622.5 805V837M624.5 763V837M627.5 796V837M629.5 810V837M632.5 799V837M634.5 808V837M637.5 802V837M639.5 776V837M642.5 790V837M644.5 805V837M646.5 805V837M649.5 799V837M651.5 799V837M654.5 797V837M656.5 796V837M659.5 788V837M661.5 779V837M664.5 783V837M666.5 765V837M669.5 776V837M671.5 805V837M674.5 802V837M679.5 823V837M681.5 821V837M684.5 822V837M686.5 836V837M689.5 795V837M691.5 808V837M694.5 791V837M696.5 767V837M699.5 786V837M701.5 789V837M704.5 788V837M706.5 788V837M709.5 782V837M711.5 754V837M714.5 792V837M716.5 788V837M718.5 773V837M721.5 776V837M723.5 772V837M726.5 797V837M728.5 762V837M731.5 804V837M733.5 776V837M736.5 766V837M738.5 776V837M741.5 769V837M743.5 760V837M746.5 770V837M748.5 763V837M751.5 774V837M753.5 748V837M756.5 769V837M758.5 753V837M761.5 769V837M763.5 787V837M766.5 787V837M768.5 783V837M771.5 785V837M773.5 785V837M776.5 799V837M778.5 794V837M780.5 787V837M783.5 797V837M785.5 783V837M788.5 792V837M790.5 783V837M793.5 777V837M795.5 794V837M798.5 783V837M800.5 794V837M803.5 792V837M805.5 813V837M808.5 742V837M810.5 750V837M813.5 776V837M815.5 772V837M818.5 798V837M820.5 770V837M823.5 767V837M825.5 813V837M828.5 806V837M830.5 812V837M833.5 808V837M835.5 802V837M838.5 804V837M840.5 784V837M843.5 783V837M845.5 808V837M848.5 794V837M850.5 791V837M853.5 786V837M855.5 788V837M857.5 794V837M860.5 783V837M862.5 763V837M865.5 779V837M867.5 797V837M870.5 800V837M872.5 794V837M875.5 787V837M877.5 783V837M880.5 794V837M882.5 803V837M885.5 787V837M887.5 793V837M890.5 777V837M892.5 781V837M895.5 820V837M897.5 790V837M900.5 792V837M902.5 800V837M905.5 796V837M907.5 799V837M910.5 804V837M912.5 806V837M915.5 799V837M917.5 808V837M919.5 827V837M922.5 806V837M924.5 809V837M927.5 801V837M929.5 816V837M932.5 814V837M934.5 808V837M937.5 786V837M939.5 770V837M942.5 796V837M944.5 827V837M947.5 786V837M949.5 796V837M952.5 785V837M954.5 796V837M957.5 814V837M959.5 808V837M962.5 798V837M964.5 784V837M967.5 769V837M969.5 796V837M972.5 779V837M974.5 783V837M977.5 781V837M979.5 751V837M982.5 789V837M984.5 794V837M987.5 798V837M989.5 785V837M991.5 742V837M994.5 742V837M996.5 752V837M999.5 765V837M1001.5 754V837M1004.5 787V837M1006.5 806V837M1009.5 783V837M1011.5 772V837M1014.5 794V837M1016.5 782V837M1019.5 799V837M1021.5 772V837M1024.5 770V837M1026.5 794V837M1029.5 796V837M1031.5 808V837M1034.5 804V837M1036.5 803V837M1039.5 794V837M1041.5 788V837M1044.5 825V837" stroke="#0000ff" stroke-width="1" fill="none" shape-rendering="crispEdges"/>
<polyline points="6.2,785.5 17.5,785.5 25.0,786.8 31.2,783.8 36.2,783.0 43.8,789.2 52.5,791.8 61.2,791.8 67.5,785.5 75.0,781.8 80.0,784.2 86.2,785.0 93.8,779.2 100.0,773.8 107.5,768.0 112.5,765.5 115.0,771.8 122.5,777.5 128.8,776.8 135.0,779.2 140.0,780.5 145.0,783.0 151.2,784.2 160.0,791.2 170.0,793.5 180.0,791.8 190.0,790.5 200.0,788.0 210.0,785.5 220.0,783.8 227.5,785.0 235.0,782.5 241.2,786.2 250.0,786.8 265.0,786.2 275.0,788.0 285.0,791.2 295.0,795.5 305.0,800.0 317.5,803.0 330.0,803.0 338.8,803.5 347.5,798.5 358.0,797.2 365.5,793.0 375.5,792.5 385.5,789.2 391.8,790.0 399.2,791.8 408.0,793.5 415.5,795.0 424.2,793.5 433.0,797.5 443.0,798.0 450.5,798.8 456.8,796.8 461.8,791.0 468.0,791.2 473.0,794.2 480.5,792.2 488.0,791.2 498.0,790.0 505.5,787.5 509.2,791.0 516.8,789.8 523.0,788.0 530.5,788.0 538.0,785.0 545.5,783.8 550.5,784.2 556.8,789.2 565.5,794.2 575.5,795.5 585.5,796.2 595.5,798.0 608.0,797.5 618.0,798.8 628.0,797.2 638.0,799.2 648.0,798.5 658.0,797.2 668.0,794.2 675.5,795.5 683.0,798.8 690.5,801.8 698.0,798.0 700.0,798.0 710.0,796.8 721.2,796.8 727.5,790.0 737.5,782.5 747.5,778.5 756.2,774.2 763.8,773.0 772.5,775.0 782.5,777.5 792.5,780.0 801.2,783.0 807.5,786.2 815.0,783.8 822.5,783.0 830.0,785.0 840.0,786.8 850.0,788.8 856.2,788.8 865.0,791.2 875.0,793.5 882.5,790.0 892.5,788.8 902.5,790.0 910.0,791.8 917.5,796.0 927.5,800.0 937.5,802.2 950.0,802.2 960.0,803.0 967.5,799.2 975.0,794.2 982.5,790.0 989.5,789.2 991.2,780.5 996.2,773.0 1002.5,770.0 1012.5,767.5 1025.0,768.0 1031.2,771.2 1038.8,771.8 1042.5,783.0 1044.5,787.5" fill="none" stroke="#3aaa5c" stroke-width="2" stroke-linejoin="round" shape-rendering="crispEdges"/>
<polyline points="6.2,796.0 25.0,796.0 45.0,795.0 47.5,796.2 65.0,796.0 82.5,794.5 107.5,793.5 140.0,792.5 160.0,792.2 175.0,791.8 195.0,790.5 225.0,790.0 255.0,789.2 275.0,789.0 322.5,789.0 325.0,788.0 358.0,788.0 403.0,787.2 423.0,788.5 458.0,790.0 478.0,789.8 508.0,790.0 543.0,789.2 558.0,789.5 570.5,791.0 608.0,791.8 633.0,792.5 670.5,793.0 685.5,794.0 700.0,794.2 700.0,794.2 725.0,793.5 742.5,793.5 745.0,792.5 770.0,792.5 772.5,791.8 807.5,791.2 825.0,790.0 835.0,791.0 875.0,791.0 890.0,789.8 910.0,790.0 915.0,791.0 957.5,791.0 960.0,791.8 967.5,791.0 987.5,790.5 995.0,789.2 1025.0,789.0 1044.5,789.8" fill="none" stroke="#ff0000" stroke-width="2.2" stroke-linejoin="round" shape-rendering="crispEdges"/>
<rect x="0" y="837" width="1432" height="1" fill="#0000ff"/>
<rect x="51" y="837" width="2" height="10" fill="#0000ff"/>
<rect x="210" y="837" width="1" height="10" fill="#0000ff"/>
<rect x="365" y="837" width="1" height="10" fill="#0000ff"/>
<rect x="528" y="837" width="1" height="10" fill="#0000ff"/>
<rect x="688" y="837" width="1" height="10" fill="#0000ff"/>
<rect x="843" y="837" width="1" height="10" fill="#0000ff"/>
<rect x="1004" y="837" width="1" height="10" fill="#0000ff"/>
<rect x="1165" y="837" width="1" height="10" fill="#0000ff"/>
<rect x="1329" y="837" width="1" height="10" fill="#0000ff"/>
<rect x="51" y="827" width="2" height="10" fill="#0000ff"/>
<rect x="688" y="827" width="1" height="10" fill="#0000ff"/>
<rect x="1329" y="827" width="1" height="10" fill="#0000ff"/>
<rect x="1360" y="15" width="72" height="1" fill="#0000ff"/>
<rect x="1360" y="15" width="1" height="512" fill="#0000ff"/>
<rect x="1360" y="29" width="7" height="1" fill="#0000ff"/>
<rect x="1360" y="134" width="7" height="1" fill="#0000ff"/>
<rect x="1360" y="239" width="7" height="1" fill="#0000ff"/>
<rect x="1360" y="346" width="7" height="1" fill="#0000ff"/>
<rect x="1360" y="451" width="7" height="1" fill="#0000ff"/>
<rect x="1360" y="46" width="4" height="1" fill="#0000ff"/>
<rect x="1360" y="63" width="4" height="1" fill="#0000ff"/>
<rect x="1360" y="80" width="4" height="1" fill="#0000ff"/>
<rect x="1360" y="97" width="4" height="1" fill="#0000ff"/>
<rect x="1360" y="114" width="4" height="1" fill="#0000ff"/>
<rect x="1360" y="151" width="4" height="1" fill="#0000ff"/>
<rect x="1360" y="168" width="4" height="1" fill="#0000ff"/>
<rect x="1360" y="185" width="4" height="1" fill="#0000ff"/>
<rect x="1360" y="202" width="4" height="1" fill="#0000ff"/>
<rect x="1360" y="219" width="4" height="1" fill="#0000ff"/>
<rect x="1360" y="256" width="4" height="1" fill="#0000ff"/>
<rect x="1360" y="274" width="4" height="1" fill="#0000ff"/>
<rect x="1360" y="291" width="4" height="1" fill="#0000ff"/>
<rect x="1360" y="308" width="4" height="1" fill="#0000ff"/>
<rect x="1360" y="325" width="4" height="1" fill="#0000ff"/>
<rect x="1360" y="363" width="4" height="1" fill="#0000ff"/>
<rect x="1360" y="380" width="4" height="1" fill="#0000ff"/>
<rect x="1360" y="397" width="4" height="1" fill="#0000ff"/>
<rect x="1360" y="414" width="4" height="1" fill="#0000ff"/>
<rect x="1360" y="431" width="4" height="1" fill="#0000ff"/>
<rect x="1360" y="469" width="4" height="1" fill="#0000ff"/>
<rect x="1360" y="486" width="4" height="1" fill="#0000ff"/>
<rect x="1360" y="503" width="4" height="1" fill="#0000ff"/>
<rect x="1360" y="520" width="4" height="1" fill="#0000ff"/>
<rect x="1360" y="542" width="72" height="1" fill="#0000ff"/>
<rect x="1360" y="542" width="1" height="85" fill="#0000ff"/>
<rect x="1360" y="545" width="7" height="1" fill="#0000ff"/>
<rect x="1360" y="618" width="7" height="1" fill="#0000ff"/>
<rect x="1360" y="557" width="4" height="1" fill="#0000ff"/>
<rect x="1360" y="569" width="4" height="1" fill="#0000ff"/>
<rect x="1360" y="581" width="4" height="1" fill="#0000ff"/>
<rect x="1360" y="593" width="4" height="1" fill="#0000ff"/>
<rect x="1360" y="605" width="4" height="1" fill="#0000ff"/>
<rect x="1360" y="642" width="72" height="1" fill="#0000ff"/>
<rect x="1360" y="642" width="1" height="85" fill="#0000ff"/>
<rect x="1360" y="646" width="7" height="1" fill="#0000ff"/>
<rect x="1360" y="673" width="7" height="1" fill="#0000ff"/>
<rect x="1360" y="698" width="7" height="1" fill="#0000ff"/>
<rect x="1360" y="723" width="7" height="1" fill="#0000ff"/>
<rect x="1360" y="660" width="4" height="1" fill="#0000ff"/>
<rect x="1360" y="685" width="4" height="1" fill="#0000ff"/>
<rect x="1360" y="710" width="4" height="1" fill="#0000ff"/>
<rect x="1360" y="742" width="72" height="1" fill="#0000ff"/>
<rect x="1360" y="742" width="1" height="96" fill="#0000ff"/>
<rect x="1360" y="745" width="7" height="1" fill="#0000ff"/>
<rect x="1360" y="767" width="7" height="1" fill="#0000ff"/>
<rect x="1360" y="788" width="7" height="1" fill="#0000ff"/>
<rect x="1360" y="810" width="7" height="1" fill="#0000ff"/>
<rect x="1360" y="831" width="7" height="1" fill="#0000ff"/>
<rect x="1360" y="756" width="4" height="1" fill="#0000ff"/>
<rect x="1360" y="777" width="4" height="1" fill="#0000ff"/>
<rect x="1360" y="799" width="4" height="1" fill="#0000ff"/>
<rect x="1360" y="820" width="4" height="1" fill="#0000ff"/>
<rect x="1418.5" y="825.5" width="14" height="12" fill="#fff" stroke="#0000ff" stroke-width="1"/>
<rect x="1392" y="3" width="11" height="9" fill="#dedbd6"/>
<rect x="1392" y="12" width="11" height="1" fill="#444"/>
<rect x="1404" y="3" width="11" height="9" fill="#dedbd6"/>
<rect x="1404" y="12" width="11" height="1" fill="#444"/>
<rect x="1417" y="3" width="11" height="9" fill="#dedbd6"/>
<rect x="1417" y="12" width="11" height="1" fill="#444"/>
<rect x="1394" y="9" width="5" height="2" fill="#000"/>
<rect x="1405.5" y="4.5" width="7" height="6" fill="none" stroke="#000" stroke-width="1"/>
<rect x="1405" y="4" width="8" height="2" fill="#000"/>
<path d="M1419.5 5.5l6 5M1425.5 5.5l-6 5" stroke="#000" stroke-width="1.1" fill="none"/>
<rect x="1392" y="531" width="11" height="9" fill="#dedbd6"/>
<rect x="1392" y="540" width="11" height="1" fill="#444"/>
<rect x="1404" y="531" width="11" height="9" fill="#dedbd6"/>
<rect x="1404" y="540" width="11" height="1" fill="#444"/>
<rect x="1417" y="531" width="11" height="9" fill="#dedbd6"/>
<rect x="1417" y="540" width="11" height="1" fill="#444"/>
<rect x="1394" y="537" width="5" height="2" fill="#000"/>
<rect x="1405.5" y="532.5" width="7" height="6" fill="none" stroke="#000" stroke-width="1"/>
<rect x="1405" y="532" width="8" height="2" fill="#000"/>
<path d="M1419.5 533.5l6 5M1425.5 533.5l-6 5" stroke="#000" stroke-width="1.1" fill="none"/>
<rect x="1392" y="631" width="11" height="9" fill="#dedbd6"/>
<rect x="1392" y="640" width="11" height="1" fill="#444"/>
<rect x="1404" y="631" width="11" height="9" fill="#dedbd6"/>
<rect x="1404" y="640" width="11" height="1" fill="#444"/>
<rect x="1417" y="631" width="11" height="9" fill="#dedbd6"/>
<rect x="1417" y="640" width="11" height="1" fill="#444"/>
<rect x="1394" y="637" width="5" height="2" fill="#000"/>
<rect x="1405.5" y="632.5" width="7" height="6" fill="none" stroke="#000" stroke-width="1"/>
<rect x="1405" y="632" width="8" height="2" fill="#000"/>
<path d="M1419.5 633.5l6 5M1425.5 633.5l-6 5" stroke="#000" stroke-width="1.1" fill="none"/>
<rect x="1392" y="731" width="11" height="9" fill="#dedbd6"/>
<rect x="1392" y="740" width="11" height="1" fill="#444"/>
<rect x="1404" y="731" width="11" height="9" fill="#dedbd6"/>
<rect x="1404" y="740" width="11" height="1" fill="#444"/>
<rect x="1417" y="731" width="11" height="9" fill="#dedbd6"/>
<rect x="1417" y="740" width="11" height="1" fill="#444"/>
<rect x="1394" y="737" width="5" height="2" fill="#000"/>
<rect x="1405.5" y="732.5" width="7" height="6" fill="none" stroke="#000" stroke-width="1"/>
<rect x="1405" y="732" width="8" height="2" fill="#000"/>
<path d="M1419.5 733.5l6 5M1425.5 733.5l-6 5" stroke="#000" stroke-width="1.1" fill="none"/>
<text transform="translate(2,10.7) scale(1,0.88)" fill="#0000ff" font-family="Liberation Mono, DejaVu Sans Mono, monospace" font-size="11.67" font-weight="bold" xml:space="preserve">.IBEX - IBEX 35 INDEX -  1 d</text>
<text transform="translate(203,10.7) scale(1,0.88)" fill="#0000ff" font-family="Liberation Mono, DejaVu Sans Mono, monospace" font-size="11.67" font-weight="bold" xml:space="preserve">Dif. %: -0,41</text>
<text transform="translate(299,10.7) scale(1,0.88)" fill="#0000ff" font-family="Liberation Mono, DejaVu Sans Mono, monospace" font-size="11.67" font-weight="bold" xml:space="preserve">Dif.: -35,6</text>
<text transform="translate(381.5,10.7) scale(1,0.88)" fill="#0000ff" font-family="Liberation Mono, DejaVu Sans Mono, monospace" font-size="11.67" font-weight="bold" xml:space="preserve">M:</text>
<text transform="translate(402,10.7) scale(1,0.88)" fill="#0000ff" font-family="Liberation Mono, DejaVu Sans Mono, monospace" font-size="11.67" font-weight="bold" xml:space="preserve">8.647,6</text>
<text transform="translate(457,10.7) scale(1,0.88)" fill="#0000ff" font-family="Liberation Mono, DejaVu Sans Mono, monospace" font-size="11.67" font-weight="bold" xml:space="preserve">m: 8.537,1 F: 25-07-2016</text>
<text transform="translate(628,10.7) scale(1,0.88)" fill="#ff0000" font-family="Liberation Mono, DejaVu Sans Mono, monospace" font-size="11.67" font-weight="bold" xml:space="preserve">P : 6.397,2</text>
<text transform="translate(3,538) scale(1,0.88)" fill="#ff0000" font-family="Liberation Mono, DejaVu Sans Mono, monospace" font-size="11.67" stroke="#ff0000" stroke-width="0.28" xml:space="preserve">Stochastic_.IBEX</text>
<text transform="translate(120,538) scale(1,0.88)" fill="#ff0000" font-family="Liberation Mono, DejaVu Sans Mono, monospace" font-size="11.67" stroke="#ff0000" stroke-width="0.28" xml:space="preserve">SK:</text>
<text transform="translate(148,538) scale(1,0.88)" fill="#0000ff" font-family="Liberation Mono, DejaVu Sans Mono, monospace" font-size="11.67" stroke="#0000ff" stroke-width="0.28" xml:space="preserve">93,9377</text>
<text transform="translate(201.5,538) scale(1,0.88)" fill="#000" font-family="Liberation Mono, DejaVu Sans Mono, monospace" font-size="11.67" stroke="#000" stroke-width="0.28" xml:space="preserve">SD:</text>
<text transform="translate(230,538) scale(1,0.88)" fill="#0000ff" font-family="Liberation Mono, DejaVu Sans Mono, monospace" font-size="11.67" stroke="#0000ff" stroke-width="0.28" xml:space="preserve">93,4435</text>
<text transform="translate(283.5,538) scale(1,0.88)" fill="#0000ff" font-family="Liberation Mono, DejaVu Sans Mono, monospace" font-size="11.67" stroke="#0000ff" stroke-width="0.28" xml:space="preserve">UpperBand:</text>
<text transform="translate(361,538) scale(1,0.88)" fill="#0000ff" font-family="Liberation Mono, DejaVu Sans Mono, monospace" font-size="11.67" stroke="#0000ff" stroke-width="0.28" xml:space="preserve">80,0000</text>
<text transform="translate(415,538) scale(1,0.88)" fill="#0000ff" font-family="Liberation Mono, DejaVu Sans Mono, monospace" font-size="11.67" stroke="#0000ff" stroke-width="0.28" xml:space="preserve">LowerBand:</text>
<text transform="translate(492,538) scale(1,0.88)" fill="#0000ff" font-family="Liberation Mono, DejaVu Sans Mono, monospace" font-size="11.67" stroke="#0000ff" stroke-width="0.28" xml:space="preserve">20,0000</text>
<text transform="translate(546,538) scale(1,0.88)" fill="#ff0000" font-family="Liberation Mono, DejaVu Sans Mono, monospace" font-size="11.67" stroke="#ff0000" stroke-width="0.28" xml:space="preserve">P:</text>
<text transform="translate(567,538) scale(1,0.88)" fill="#ff0000" font-family="Liberation Mono, DejaVu Sans Mono, monospace" font-size="11.67" stroke="#ff0000" stroke-width="0.28" xml:space="preserve">-26,4923</text>
<text transform="translate(3,638) scale(1,0.88)" fill="#ff0000" font-family="Liberation Mono, DejaVu Sans Mono, monospace" font-size="11.67" stroke="#ff0000" stroke-width="0.28" xml:space="preserve">MACD_.IBEX MACD:</text>
<text transform="translate(120,638) scale(1,0.88)" fill="#0000ff" font-family="Liberation Mono, DejaVu Sans Mono, monospace" font-size="11.67" stroke="#0000ff" stroke-width="0.28" xml:space="preserve">43,1073</text>
<text transform="translate(174,638) scale(1,0.88)" fill="#0000ff" font-family="Liberation Mono, DejaVu Sans Mono, monospace" font-size="11.67" stroke="#0000ff" stroke-width="0.28" xml:space="preserve">MediaSIG:</text>
<text transform="translate(244,638) scale(1,0.88)" fill="#0000ff" font-family="Liberation Mono, DejaVu Sans Mono, monospace" font-size="11.67" stroke="#0000ff" stroke-width="0.28" xml:space="preserve">-6,4963</text>
<text transform="translate(298,638) scale(1,0.88)" fill="#0000ff" font-family="Liberation Mono, DejaVu Sans Mono, monospace" font-size="11.67" stroke="#0000ff" stroke-width="0.28" xml:space="preserve">Band_MACD:</text>
<text transform="translate(375.5,638) scale(1,0.88)" fill="#0000ff" font-family="Liberation Mono, DejaVu Sans Mono, monospace" font-size="11.67" stroke="#0000ff" stroke-width="0.28" xml:space="preserve">0,0000</text>
<text transform="translate(422,638) scale(1,0.88)" fill="#ff0000" font-family="Liberation Mono, DejaVu Sans Mono, monospace" font-size="11.67" stroke="#ff0000" stroke-width="0.28" xml:space="preserve">P:</text>
<text transform="translate(442,638) scale(1,0.88)" fill="#ff0000" font-family="Liberation Mono, DejaVu Sans Mono, monospace" font-size="11.67" stroke="#ff0000" stroke-width="0.28" xml:space="preserve">162,5479</text>
<text transform="translate(3,738) scale(1,0.88)" fill="#0000ff" font-family="Liberation Mono, DejaVu Sans Mono, monospace" font-size="11.67" stroke="#0000ff" stroke-width="0.28" xml:space="preserve">Vol_.IBEX</text>
<text transform="translate(70.5,738) scale(1,0.88)" fill="#0000ff" font-family="Liberation Mono, DejaVu Sans Mono, monospace" font-size="11.67" stroke="#0000ff" stroke-width="0.28" xml:space="preserve">Vol:</text>
<text transform="translate(107,738) scale(1,0.88)" fill="#0000ff" font-family="Liberation Mono, DejaVu Sans Mono, monospace" font-size="11.67" stroke="#0000ff" stroke-width="0.28" xml:space="preserve">127.882</text>
<text transform="translate(160.5,738) scale(1,0.88)" fill="#ff0000" font-family="Liberation Mono, DejaVu Sans Mono, monospace" font-size="11.67" stroke="#ff0000" stroke-width="0.28" xml:space="preserve">P: 867.676</text>
<text transform="translate(1371,32.8) scale(1,1.09)" fill="#0000ff" font-family="Liberation Mono, DejaVu Sans Mono, monospace" font-size="11.67" font-weight="bold">12.000</text>
<text transform="translate(1371,137.8) scale(1,1.09)" fill="#0000ff" font-family="Liberation Mono, DejaVu Sans Mono, monospace" font-size="11.67" font-weight="bold">11.000</text>
<text transform="translate(1371,242.8) scale(1,1.09)" fill="#0000ff" font-family="Liberation Mono, DejaVu Sans Mono, monospace" font-size="11.67" font-weight="bold">10.000</text>
<text transform="translate(1371,349.8) scale(1,1.09)" fill="#0000ff" font-family="Liberation Mono, DejaVu Sans Mono, monospace" font-size="11.67" font-weight="bold">9.000</text>
<text transform="translate(1371,454.8) scale(1,1.09)" fill="#0000ff" font-family="Liberation Mono, DejaVu Sans Mono, monospace" font-size="11.67" font-weight="bold">8.000</text>
<clipPath id="c1"><rect x="1361" y="543" width="71" height="90"/></clipPath>
<g clip-path="url(#c1)">
<text transform="translate(1371,548.8) scale(1,1.09)" fill="#0000ff" font-family="Liberation Mono, DejaVu Sans Mono, monospace" font-size="11.67" font-weight="bold">100</text>
</g>
<text transform="translate(1371,621.8) scale(1,1.09)" fill="#0000ff" font-family="Liberation Mono, DejaVu Sans Mono, monospace" font-size="11.67" font-weight="bold">0</text>
<clipPath id="c2"><rect x="1361" y="643" width="71" height="90"/></clipPath>
<g clip-path="url(#c2)">
<text transform="translate(1371,649.8) scale(1,1.09)" fill="#0000ff" font-family="Liberation Mono, DejaVu Sans Mono, monospace" font-size="11.67" font-weight="bold">200</text>
</g>
<text transform="translate(1371,676.8) scale(1,1.09)" fill="#0000ff" font-family="Liberation Mono, DejaVu Sans Mono, monospace" font-size="11.67" font-weight="bold">0</text>
<text transform="translate(1371,701.8) scale(1,1.09)" fill="#0000ff" font-family="Liberation Mono, DejaVu Sans Mono, monospace" font-size="11.67" font-weight="bold">-200</text>
<text transform="translate(1371,726.8) scale(1,1.09)" fill="#0000ff" font-family="Liberation Mono, DejaVu Sans Mono, monospace" font-size="11.67" font-weight="bold">-400</text>
<clipPath id="c3"><rect x="1361" y="743" width="71" height="100"/></clipPath>
<g clip-path="url(#c3)">
<text transform="translate(1371,748.8) scale(1,1.09)" fill="#0000ff" font-family="Liberation Mono, DejaVu Sans Mono, monospace" font-size="11.67" font-weight="bold">50.000</text>
</g>
<text transform="translate(1371,770.8) scale(1,1.09)" fill="#0000ff" font-family="Liberation Mono, DejaVu Sans Mono, monospace" font-size="11.67" font-weight="bold">40.000</text>
<text transform="translate(1371,791.8) scale(1,1.09)" fill="#0000ff" font-family="Liberation Mono, DejaVu Sans Mono, monospace" font-size="11.67" font-weight="bold">30.000</text>
<text transform="translate(1371,813.8) scale(1,1.09)" fill="#0000ff" font-family="Liberation Mono, DejaVu Sans Mono, monospace" font-size="11.67" font-weight="bold">20.000</text>
<text transform="translate(1371,834.8) scale(1,1.09)" fill="#0000ff" font-family="Liberation Mono, DejaVu Sans Mono, monospace" font-size="11.67" font-weight="bold">10.000</text>
<text x="1420" y="835" fill="#0000ff" font-family="Liberation Sans, Arial, sans-serif" font-size="8" xml:space="preserve">x10</text>
<text x="320" y="33" fill="#ff0000" font-family="Liberation Sans, Arial, sans-serif" font-size="12" font-weight="bold" letter-spacing="1.3" xml:space="preserve">11.884</text>
<text x="442" y="75" fill="#ff0000" font-family="Liberation Sans, Arial, sans-serif" font-size="12" font-weight="bold" letter-spacing="1.3" xml:space="preserve">11.612</text>
<text x="990" y="311" fill="#ff0000" font-family="Liberation Sans, Arial, sans-serif" font-size="12" font-weight="bold" letter-spacing="1.15" xml:space="preserve">9.360</text>
<text x="1052" y="359" fill="#ff0000" font-family="Liberation Sans, Arial, sans-serif" font-size="12" font-weight="bold" letter-spacing="1.15" xml:space="preserve">8.912</text>
<text x="1082" y="392" fill="#ff0000" font-family="Liberation Sans, Arial, sans-serif" font-size="12" font-weight="bold" letter-spacing="1.15" xml:space="preserve">8.594</text>
<text x="1133.5" y="420" fill="#ff0000" font-family="Liberation Sans, Arial, sans-serif" font-size="12" font-weight="bold" letter-spacing="1.05" xml:space="preserve">8.362 / 8.328</text>
<text x="1117" y="468.5" fill="#ff0000" font-family="Liberation Sans, Arial, sans-serif" font-size="12" font-weight="bold" letter-spacing="1.15" xml:space="preserve">7.857</text>
<text x="1134" y="496.5" fill="#ff0000" font-family="Liberation Sans, Arial, sans-serif" font-size="12" font-weight="bold" letter-spacing="1.15" xml:space="preserve">7.579</text>
<text x="1106.5" y="517.5" fill="#ff0000" font-family="Liberation Sans, Arial, sans-serif" font-size="12" font-weight="bold" letter-spacing="1.05" xml:space="preserve">7.508 / 7.490</text>
<text x="790" y="212" fill="#ff0000" font-family="Liberation Sans, Arial, sans-serif" font-size="12" font-weight="bold" letter-spacing="1.15" xml:space="preserve">MMS (200)</text>
<text x="555" y="271" fill="#009a30" font-family="Liberation Sans, Arial, sans-serif" font-size="12" font-weight="bold" letter-spacing="1.15" xml:space="preserve">MMS (40)</text>
<text x="1076" y="761" fill="#ff0000" font-family="Liberation Sans, Arial, sans-serif" font-size="12" font-weight="bold" letter-spacing="1.15" xml:space="preserve">MMS (200, volumen)</text>
<text x="1079" y="785" fill="#1e9632" font-family="Liberation Sans, Arial, sans-serif" font-size="12" font-weight="bold" letter-spacing="1.15" xml:space="preserve">MMS (20, volumen)</text>
<text x="1079" y="588" fill="#0000ff" font-family="Liberation Sans, Arial, sans-serif" font-size="16" letter-spacing="1" stroke="#0000ff" stroke-width="0.25" xml:space="preserve">Estocástico</text>
<text x="1079" y="674" fill="#0000ff" font-family="Liberation Sans, Arial, sans-serif" font-size="16" letter-spacing="1" stroke="#0000ff" stroke-width="0.25" xml:space="preserve">MACD</text>
<text x="54.5" y="854" fill="#0000ff" font-family="Liberation Sans, Arial, sans-serif" font-size="12" font-weight="bold" letter-spacing="1.1" xml:space="preserve">01-Ene-15</text>
<text x="212.5" y="854" fill="#0000ff" font-family="Liberation Sans, Arial, sans-serif" font-size="12" font-weight="bold" letter-spacing="1.1" xml:space="preserve">01-Abr-15</text>
<text x="367" y="854" fill="#0000ff" font-family="Liberation Sans, Arial, sans-serif" font-size="12" font-weight="bold" letter-spacing="1.1" xml:space="preserve">01-Jul-15</text>
<text x="530" y="854" fill="#0000ff" font-family="Liberation Sans, Arial, sans-serif" font-size="12" font-weight="bold" letter-spacing="1.1" xml:space="preserve">01-Oct-15</text>
<text x="690.5" y="854" fill="#0000ff" font-family="Liberation Sans, Arial, sans-serif" font-size="12" font-weight="bold" letter-spacing="1.1" xml:space="preserve">01-Ene-16</text>
<text x="845.5" y="854" fill="#0000ff" font-family="Liberation Sans, Arial, sans-serif" font-size="12" font-weight="bold" letter-spacing="1.1" xml:space="preserve">01-Abr-16</text>
<text x="1006.5" y="854" fill="#0000ff" font-family="Liberation Sans, Arial, sans-serif" font-size="12" font-weight="bold" letter-spacing="1.1" xml:space="preserve">01-Jul-16</text>
<text x="1167" y="854" fill="#0000ff" font-family="Liberation Sans, Arial, sans-serif" font-size="12" font-weight="bold" letter-spacing="1.1" xml:space="preserve">01-Oct-16</text>
<text x="1331.5" y="854" fill="#0000ff" font-family="Liberation Sans, Arial, sans-serif" font-size="12" font-weight="bold" letter-spacing="1.1" xml:space="preserve">01-I</text>
<text x="55" y="833.5" fill="#0000ff" font-family="Liberation Sans, Arial, sans-serif" font-size="12" font-weight="bold" letter-spacing="1.1" xml:space="preserve">2015</text>
<text x="691" y="833.5" fill="#0000ff" font-family="Liberation Sans, Arial, sans-serif" font-size="12" font-weight="bold" letter-spacing="1.1" xml:space="preserve">2016</text>
<text x="1332" y="833.5" fill="#0000ff" font-family="Liberation Sans, Arial, sans-serif" font-size="12" font-weight="bold" letter-spacing="1.1" xml:space="preserve">201</text>
<text x="75.5" y="515.5" fill="#a9a9cf" font-family="DejaVu Sans, Liberation Sans, sans-serif" font-weight="bold" font-size="13" textLength="169" lengthAdjust="spacingAndGlyphs" xml:space="preserve">www.visualchart.com</text>
</svg>
</body></html>
